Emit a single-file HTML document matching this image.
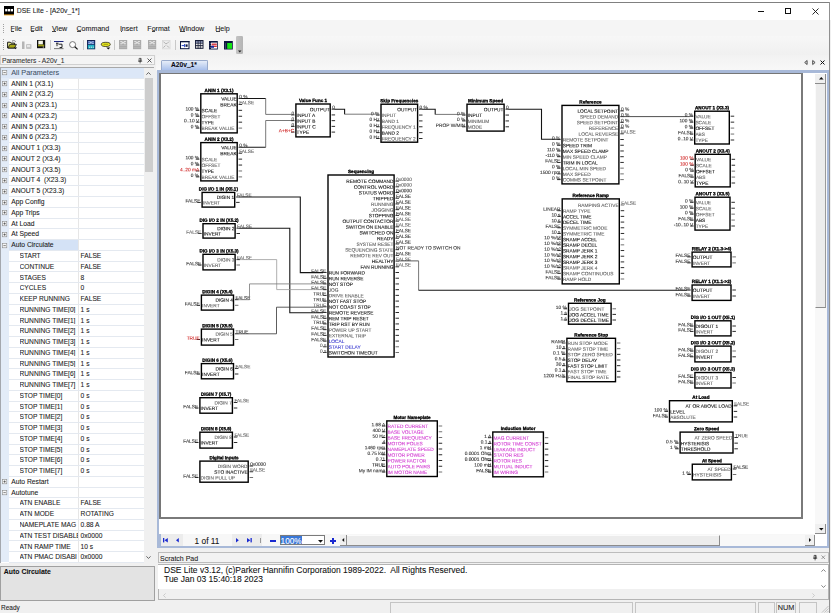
<!DOCTYPE html><html><head><meta charset="utf-8"><style>
html,body{margin:0;padding:0;}
body{width:831px;height:613px;overflow:hidden;position:relative;font-family:"Liberation Sans",sans-serif;background:#f0f0f0}
.t{position:absolute;white-space:pre;line-height:1.15;-webkit-text-stroke:0.08px currentColor;}
</style></head><body>
<div style="position:absolute;left:0px;top:0px;width:831px;height:613px;background:#f0f0f0"></div>
<div style="position:absolute;left:0px;top:0px;width:831px;height:20px;background:#fff"></div>
<div style="position:absolute;left:0px;top:2px;width:830px;height:1px;background:#808080"></div>
<div style="position:absolute;left:829px;top:2px;width:1px;height:611px;background:#909090"></div>
<svg style="position:absolute;left:4px;top:6px" width="11" height="10" viewBox="0 0 11 10"><rect x="0" y="0" width="10" height="9" fill="#000"/><rect x="1.2" y="3" width="2.2" height="2.4" fill="#fff"/><rect x="4" y="3" width="2.2" height="2.4" fill="#fff"/><rect x="6.8" y="3" width="2.2" height="2.4" fill="#fff"/><rect x="0" y="8.4" width="10" height="1" fill="#e8a020"/></svg>
<div class="t " style="left:16.8px;top:7.4px;font-size:6.85px;color:#1a1a1a">DSE Lite - [A20v_1*]</div>
<div style="position:absolute;left:758px;top:11px;width:6px;height:1px;background:#111"></div>
<div style="position:absolute;left:785.2px;top:8.4px;width:6px;height:5.8px;border:0.85px solid #111;box-sizing:border-box"></div>
<svg style="position:absolute;left:812px;top:8px" width="7" height="7" viewBox="0 0 7 7"><path d="M0.5 0.5L6.5 6.5M6.5 0.5L0.5 6.5" stroke="#111" stroke-width="0.9"/></svg>
<div style="position:absolute;left:0px;top:20px;width:829px;height:16px;background:#f5f5f5"></div>
<div style="position:absolute;left:3px;top:24px;width:1px;height:1px;background:#a0a0a0"></div>
<div style="position:absolute;left:3px;top:26px;width:1px;height:1px;background:#a0a0a0"></div>
<div style="position:absolute;left:3px;top:28px;width:1px;height:1px;background:#a0a0a0"></div>
<div style="position:absolute;left:3px;top:30px;width:1px;height:1px;background:#a0a0a0"></div>
<div style="position:absolute;left:3px;top:32px;width:1px;height:1px;background:#a0a0a0"></div>
<div class="t " style="left:10.6px;top:24.9px;font-size:7.1px;color:#1a1a1a">File</div>
<div style="position:absolute;left:10.5px;top:31.0px;width:3.4px;height:0.7px;background:#444"></div>
<div class="t " style="left:30.3px;top:24.9px;font-size:7.1px;color:#1a1a1a">Edit</div>
<div style="position:absolute;left:30.6px;top:31.0px;width:3.3px;height:0.7px;background:#444"></div>
<div class="t " style="left:52px;top:24.9px;font-size:7.1px;color:#1a1a1a">View</div>
<div style="position:absolute;left:52px;top:31.0px;width:4px;height:0.7px;background:#444"></div>
<div class="t " style="left:76.5px;top:24.9px;font-size:7.1px;color:#1a1a1a">Command</div>
<div style="position:absolute;left:76.6px;top:31.0px;width:4.3px;height:0.7px;background:#444"></div>
<div class="t " style="left:119.9px;top:24.9px;font-size:7.1px;color:#1a1a1a">Insert</div>
<div style="position:absolute;left:120.5px;top:31.0px;width:1.5px;height:0.7px;background:#444"></div>
<div class="t " style="left:147.3px;top:24.9px;font-size:7.1px;color:#1a1a1a">Format</div>
<div style="position:absolute;left:151.6px;top:31.0px;width:3px;height:0.7px;background:#444"></div>
<div class="t " style="left:179px;top:24.9px;font-size:7.1px;color:#1a1a1a">Window</div>
<div style="position:absolute;left:179.5px;top:31.0px;width:5.5px;height:0.7px;background:#444"></div>
<div class="t " style="left:215.2px;top:24.9px;font-size:7.1px;color:#1a1a1a">Help</div>
<div style="position:absolute;left:215.6px;top:31.0px;width:4px;height:0.7px;background:#444"></div>
<div style="position:absolute;left:0px;top:36px;width:829px;height:19px;background:linear-gradient(#f7f7f7,#f0f0f0)"></div>
<div style="position:absolute;left:3px;top:39px;width:1px;height:1px;background:#a0a0a0"></div>
<div style="position:absolute;left:3px;top:41px;width:1px;height:1px;background:#a0a0a0"></div>
<div style="position:absolute;left:3px;top:43px;width:1px;height:1px;background:#a0a0a0"></div>
<div style="position:absolute;left:3px;top:45px;width:1px;height:1px;background:#a0a0a0"></div>
<div style="position:absolute;left:3px;top:47px;width:1px;height:1px;background:#a0a0a0"></div>
<div style="position:absolute;left:3px;top:49px;width:1px;height:1px;background:#a0a0a0"></div>
<svg style="position:absolute;left:6.7px;top:40px;overflow:visible" width="10" height="9" viewBox="0 0 10 9"><path d="M0.6 2.2h2.6l0.8 0.9h3.6v4.9h-7z" fill="#e8e890" stroke="#1a1a1a" stroke-width="1"/><path d="M1 8l1.8-3.6h6.6l-1.8 3.6z" fill="#a6a614" stroke="#1a1a1a" stroke-width="0.8"/><path d="M5.2 1.2q2-1.4 3.6 0.6" fill="none" stroke="#222" stroke-width="0.8" stroke-dasharray="0.9 0.5"/><path d="M6.6 7.4l1.8 1.8 1.8-1.8z" fill="#111"/></svg>
<svg style="position:absolute;left:22px;top:40.5px;overflow:visible" width="10" height="8.5" viewBox="0 0 10 8.5"><rect x="0" y="0.5" width="2.5" height="7.5" fill="#b4b4b4"/><rect x="4" y="3" width="5.5" height="5" rx="1" fill="#c4c4c4"/><rect x="5" y="4" width="3" height="2" fill="#e6e6e6"/></svg>
<svg style="position:absolute;left:36.8px;top:40.4px;overflow:visible" width="8.2" height="8.2" viewBox="0 0 8.2 8.2"><rect x="0" y="0" width="8.2" height="8.2" fill="#111"/><rect x="1.3" y="0.7" width="4.6" height="3.8" fill="#f6f6e8"/><rect x="1" y="4.6" width="6.2" height="1.8" fill="#9c9c14"/><rect x="5.8" y="6.6" width="1" height="1" fill="#eee"/></svg>
<div style="position:absolute;left:50.2px;top:39.5px;width:1px;height:10px;background:#c8c8c8"></div>
<svg style="position:absolute;left:54.3px;top:40.8px;overflow:visible" width="9.5" height="8" viewBox="0 0 9.5 8"><rect x="0" y="0" width="9.5" height="1" fill="#1a237e"/><path d="M2 2.2h2.5M3 2.2v3M4.5 3.2h3.5v3.3h-2.4" stroke="#111" stroke-width="0.9" fill="none"/><rect x="0" y="7.3" width="9.5" height="0.8" fill="#555"/></svg>
<svg style="position:absolute;left:68.8px;top:40.5px;overflow:visible" width="9" height="8.5" viewBox="0 0 9 8.5"><circle cx="3.6" cy="3.6" r="3" fill="#fff" stroke="#555" stroke-width="0.8"/><path d="M5.8 5.8L8.6 8.4" stroke="#111" stroke-width="1.2"/></svg>
<div style="position:absolute;left:82.5px;top:39.5px;width:1px;height:10px;background:#c8c8c8"></div>
<svg style="position:absolute;left:86.8px;top:40.2px;overflow:visible" width="8.2" height="9.3" viewBox="0 0 8.2 9.3"><rect x="0" y="0" width="8.2" height="9.3" fill="#14204e"/><rect x="0.8" y="1" width="6.6" height="3.4" fill="#2a4fa8"/><path d="M1.3 1.8h2.2v1.6h-2.2M6.9 1.8h-2.2v1.6h2.2" stroke="#e8f4ff" stroke-width="0.7" fill="none"/><rect x="0.8" y="4.8" width="6.6" height="3.8" fill="#22b4c4"/><path d="M2 7.2h1.2M4 7.2h1.2M6 7.2h0.8" stroke="#f4f4f4" stroke-width="0.9"/></svg>
<svg style="position:absolute;left:100.9px;top:41.5px;overflow:visible" width="9.5" height="8" viewBox="0 0 9.5 8"><ellipse cx="4.8" cy="2.4" rx="4.5" ry="2.1" fill="#e8e820" stroke="#111" stroke-width="0.7"/><path d="M2.5 2.3h4.5" stroke="#6a6a10" stroke-width="0.6"/><path d="M5.3 5.6l2 2 2-2z" fill="#111"/></svg>
<div style="position:absolute;left:114.2px;top:39.5px;width:1px;height:10px;background:#c8c8c8"></div>
<svg style="position:absolute;left:119px;top:40.2px;overflow:visible" width="8.2" height="9.2" viewBox="0 0 8.2 9.2"><rect x="0" y="0" width="8.2" height="9.2" fill="#ababab"/><path d="M1.2 1.6h2v2.2h-2M7 1.6h-2v2.2h2M3.2 2.7h1.8" stroke="#f2f2f2" stroke-width="0.8" fill="none"/><rect x="0.6" y="5.4" width="7" height="0.5" fill="#c8c8c8"/><rect x="0.6" y="7.2" width="7" height="0.5" fill="#c0c0c0"/></svg>
<svg style="position:absolute;left:133.4px;top:40.2px;overflow:visible" width="8.2" height="9.2" viewBox="0 0 8.2 9.2"><rect x="0" y="0" width="8.2" height="9.2" fill="#ababab"/><path d="M1.2 1.6h2v2.2h-2M7 1.6h-2v2.2h2M3.2 2.7h1.8" stroke="#f2f2f2" stroke-width="0.8" fill="none"/><rect x="0.6" y="5.4" width="7" height="0.5" fill="#c8c8c8"/><rect x="0.6" y="7.2" width="7" height="0.5" fill="#c0c0c0"/></svg>
<svg style="position:absolute;left:148.1px;top:40.2px;overflow:visible" width="8.2" height="9.2" viewBox="0 0 8.2 9.2"><rect x="0" y="0" width="8.2" height="9.2" fill="#ababab"/><path d="M1.2 1.6h2v2.2h-2M7 1.6h-2v2.2h2M3.2 2.7h1.8" stroke="#f2f2f2" stroke-width="0.8" fill="none"/><rect x="0.6" y="5.4" width="7" height="0.5" fill="#c8c8c8"/><rect x="0.6" y="7.2" width="7" height="0.5" fill="#c0c0c0"/></svg>
<svg style="position:absolute;left:162.2px;top:40.2px;overflow:visible" width="8.4" height="9.2" viewBox="0 0 8.4 9.2"><rect x="0" y="0" width="8.4" height="9.2" fill="#d4d4d4"/><rect x="0.6" y="0.6" width="7.2" height="8" fill="#ececec"/><path d="M1.4 1.6l2 2M7 1.6l-2 2M3.4 3.6h1.6M1.4 7.6l2-2M5 5.6l2 2" stroke="#a8a8a8" stroke-width="0.9" fill="none"/></svg>
<div style="position:absolute;left:175.4px;top:39.5px;width:1px;height:10px;background:#c8c8c8"></div>
<svg style="position:absolute;left:180px;top:40.8px;overflow:visible" width="9.5" height="8.2" viewBox="0 0 9.5 8.2"><rect x="0.5" y="0.5" width="8.5" height="7.2" fill="#fff" stroke="#0d1640" stroke-width="1"/><rect x="0" y="0" width="9.5" height="1.3" fill="#0d1640"/><path d="M1.6 4.6h2.6" stroke="#1030c0" stroke-width="0.9"/><rect x="4.2" y="3" width="0.9" height="3.2" fill="#1030c0"/><rect x="5.6" y="3.4" width="2" height="2.4" fill="#0d1640"/></svg>
<svg style="position:absolute;left:195px;top:40.4px;overflow:visible" width="8.5" height="8.8" viewBox="0 0 8.5 8.8"><rect x="0" y="0" width="8.5" height="8.8" fill="#161c36"/><rect x="0.9" y="1.2" width="6.7" height="1.6" fill="#9aa4c4"/><rect x="0.9" y="3.6" width="6.7" height="1.4" fill="#e8e8e8"/><rect x="0.9" y="5.8" width="6.7" height="2.1" fill="#c8c8c8"/><path d="M3.1 1v7.8M5.4 1v7.8" stroke="#161c36" stroke-width="0.7"/></svg>
<svg style="position:absolute;left:209.3px;top:40.5px;overflow:visible" width="8.8" height="8.5" viewBox="0 0 8.8 8.5"><rect x="0" y="0" width="8.8" height="8.5" fill="#0d1640"/><rect x="2" y="1.6" width="6" height="6" fill="#fff"/><rect x="2.6" y="2.6" width="5.2" height="1.2" fill="#d0141e"/><rect x="2.6" y="4.6" width="5.2" height="1.3" fill="#d0141e"/><rect x="2" y="4.8" width="3" height="2" fill="#1b2a9b"/><path d="M0.9 2.5h0.6M0.9 4.5h0.6M0.9 6.5h0.6" stroke="#ddd" stroke-width="0.6"/></svg>
<svg style="position:absolute;left:223.5px;top:40.5px;overflow:visible" width="8.8" height="8.5" viewBox="0 0 8.8 8.5"><rect x="0" y="0" width="8.8" height="8.5" fill="#0d1640"/><rect x="3.2" y="2" width="4.8" height="5.8" fill="#14e614"/><path d="M1.1 3h0.8M1.1 5h0.8M1.1 7h0.8" stroke="#ccc" stroke-width="0.6"/></svg>
<div style="position:absolute;left:236px;top:36.2px;width:6.6px;height:17.6px;background:linear-gradient(90deg,#c4c4c4,#b4b4b4);border-radius:1.2px"></div>
<svg style="position:absolute;left:237.5px;top:49.5px;overflow:visible" width="4" height="3" viewBox="0 0 4 3"><path d="M0 0.5h3.5L1.75 2.5z" fill="#222"/></svg>
<div style="position:absolute;left:0px;top:55.3px;width:154.5px;height:10.2px;background:#f4f4f4;border:1px solid #d0d0d0;box-sizing:border-box"></div>
<div class="t " style="left:2px;top:57.2px;font-size:6.65px;color:#333">Parameters - A20v_1</div>
<svg style="position:absolute;left:138.3px;top:57.6px;overflow:visible" width="4.2" height="5.4" viewBox="0 0 4.2 5.4"><path d="M1.1 0.4h2v2.8h-2zM0 3.2h4.2M2.1 3.2v2.2" stroke="#333" stroke-width="0.7" fill="none"/><path d="M2.6 0.4v2.8" stroke="#333" stroke-width="0.6"/></svg>
<svg style="position:absolute;left:146.5px;top:57.8px;overflow:visible" width="5" height="5" viewBox="0 0 5 5"><path d="M0.5 0.5l4 4M4.5 0.5l-4 4" stroke="#333" stroke-width="0.8"/></svg>
<div style="position:absolute;left:0px;top:66.8px;width:154px;height:496.2px;background:#fff;border-left:1px solid #a4a8ae;border-top:1px solid #a8a8a8;box-sizing:border-box"></div>
<div style="position:absolute;left:1px;top:67.6px;width:8px;height:494.59999999999997px;background:#e3ecf8"></div>
<div style="position:absolute;left:78.2px;top:67.6px;width:0.8px;height:494.4px;background:#e6e6e6"></div>
<div style="position:absolute;left:1px;top:67.6px;width:143px;height:10.76px;background:#dce7f7"></div>
<div style="position:absolute;left:9px;top:77.76px;width:135px;height:0.6px;background:#e4e9f0"></div>
<svg style="position:absolute;left:2.3px;top:70.38px;overflow:visible" width="5.2" height="5.2" viewBox="0 0 5.2 5.2"><rect x="0.4" y="0.4" width="4.4" height="4.4" fill="#f8f8f8" stroke="#8a8a8a" stroke-width="0.6"/><path d="M1.4 2.6h2.4" stroke="#333" stroke-width="0.6"/></svg>
<div class="t " style="left:11.2px;top:69.47999999999999px;font-size:7.3px;color:#44546a">All Parameters</div>
<div style="position:absolute;left:9px;top:88.52000000000001px;width:135px;height:0.6px;background:#e4e9f0"></div>
<svg style="position:absolute;left:2.3px;top:81.14px;overflow:visible" width="5.2" height="5.2" viewBox="0 0 5.2 5.2"><rect x="0.4" y="0.4" width="4.4" height="4.4" fill="#f8f8f8" stroke="#8a8a8a" stroke-width="0.6"/><path d="M1.4 2.6h2.4M2.6 1.4v2.4" stroke="#333" stroke-width="0.6"/></svg>
<div class="t " style="left:11.2px;top:79.64px;font-size:6.75px;color:#1a1a1a">ANIN 1 (X3.1)</div>
<div style="position:absolute;left:9px;top:99.28px;width:135px;height:0.6px;background:#e4e9f0"></div>
<svg style="position:absolute;left:2.3px;top:91.89999999999999px;overflow:visible" width="5.2" height="5.2" viewBox="0 0 5.2 5.2"><rect x="0.4" y="0.4" width="4.4" height="4.4" fill="#f8f8f8" stroke="#8a8a8a" stroke-width="0.6"/><path d="M1.4 2.6h2.4M2.6 1.4v2.4" stroke="#333" stroke-width="0.6"/></svg>
<div class="t " style="left:11.2px;top:90.39999999999999px;font-size:6.75px;color:#1a1a1a">ANIN 2 (X3.2)</div>
<div style="position:absolute;left:9px;top:110.04px;width:135px;height:0.6px;background:#e4e9f0"></div>
<svg style="position:absolute;left:2.3px;top:102.66px;overflow:visible" width="5.2" height="5.2" viewBox="0 0 5.2 5.2"><rect x="0.4" y="0.4" width="4.4" height="4.4" fill="#f8f8f8" stroke="#8a8a8a" stroke-width="0.6"/><path d="M1.4 2.6h2.4M2.6 1.4v2.4" stroke="#333" stroke-width="0.6"/></svg>
<div class="t " style="left:11.2px;top:101.16px;font-size:6.75px;color:#1a1a1a">ANIN 3 (X23.1)</div>
<div style="position:absolute;left:9px;top:120.8px;width:135px;height:0.6px;background:#e4e9f0"></div>
<svg style="position:absolute;left:2.3px;top:113.41999999999999px;overflow:visible" width="5.2" height="5.2" viewBox="0 0 5.2 5.2"><rect x="0.4" y="0.4" width="4.4" height="4.4" fill="#f8f8f8" stroke="#8a8a8a" stroke-width="0.6"/><path d="M1.4 2.6h2.4M2.6 1.4v2.4" stroke="#333" stroke-width="0.6"/></svg>
<div class="t " style="left:11.2px;top:111.91999999999999px;font-size:6.75px;color:#1a1a1a">ANIN 4 (X23.2)</div>
<div style="position:absolute;left:9px;top:131.56px;width:135px;height:0.6px;background:#e4e9f0"></div>
<svg style="position:absolute;left:2.3px;top:124.17999999999999px;overflow:visible" width="5.2" height="5.2" viewBox="0 0 5.2 5.2"><rect x="0.4" y="0.4" width="4.4" height="4.4" fill="#f8f8f8" stroke="#8a8a8a" stroke-width="0.6"/><path d="M1.4 2.6h2.4M2.6 1.4v2.4" stroke="#333" stroke-width="0.6"/></svg>
<div class="t " style="left:11.2px;top:122.67999999999999px;font-size:6.75px;color:#1a1a1a">ANIN 5 (X23.1)</div>
<div style="position:absolute;left:9px;top:142.32px;width:135px;height:0.6px;background:#e4e9f0"></div>
<svg style="position:absolute;left:2.3px;top:134.94px;overflow:visible" width="5.2" height="5.2" viewBox="0 0 5.2 5.2"><rect x="0.4" y="0.4" width="4.4" height="4.4" fill="#f8f8f8" stroke="#8a8a8a" stroke-width="0.6"/><path d="M1.4 2.6h2.4M2.6 1.4v2.4" stroke="#333" stroke-width="0.6"/></svg>
<div class="t " style="left:11.2px;top:133.44px;font-size:6.75px;color:#1a1a1a">ANIN 6 (X23.2)</div>
<div style="position:absolute;left:9px;top:153.07999999999998px;width:135px;height:0.6px;background:#e4e9f0"></div>
<svg style="position:absolute;left:2.3px;top:145.7px;overflow:visible" width="5.2" height="5.2" viewBox="0 0 5.2 5.2"><rect x="0.4" y="0.4" width="4.4" height="4.4" fill="#f8f8f8" stroke="#8a8a8a" stroke-width="0.6"/><path d="M1.4 2.6h2.4M2.6 1.4v2.4" stroke="#333" stroke-width="0.6"/></svg>
<div class="t " style="left:11.2px;top:144.2px;font-size:6.75px;color:#1a1a1a">ANOUT 1 (X3.3)</div>
<div style="position:absolute;left:9px;top:163.84px;width:135px;height:0.6px;background:#e4e9f0"></div>
<svg style="position:absolute;left:2.3px;top:156.46px;overflow:visible" width="5.2" height="5.2" viewBox="0 0 5.2 5.2"><rect x="0.4" y="0.4" width="4.4" height="4.4" fill="#f8f8f8" stroke="#8a8a8a" stroke-width="0.6"/><path d="M1.4 2.6h2.4M2.6 1.4v2.4" stroke="#333" stroke-width="0.6"/></svg>
<div class="t " style="left:11.2px;top:154.96px;font-size:6.75px;color:#1a1a1a">ANOUT 2 (X3.4)</div>
<div style="position:absolute;left:9px;top:174.6px;width:135px;height:0.6px;background:#e4e9f0"></div>
<svg style="position:absolute;left:2.3px;top:167.22px;overflow:visible" width="5.2" height="5.2" viewBox="0 0 5.2 5.2"><rect x="0.4" y="0.4" width="4.4" height="4.4" fill="#f8f8f8" stroke="#8a8a8a" stroke-width="0.6"/><path d="M1.4 2.6h2.4M2.6 1.4v2.4" stroke="#333" stroke-width="0.6"/></svg>
<div class="t " style="left:11.2px;top:165.72px;font-size:6.75px;color:#1a1a1a">ANOUT 3 (X3.5)</div>
<div style="position:absolute;left:9px;top:185.35999999999999px;width:135px;height:0.6px;background:#e4e9f0"></div>
<svg style="position:absolute;left:2.3px;top:177.98px;overflow:visible" width="5.2" height="5.2" viewBox="0 0 5.2 5.2"><rect x="0.4" y="0.4" width="4.4" height="4.4" fill="#f8f8f8" stroke="#8a8a8a" stroke-width="0.6"/><path d="M1.4 2.6h2.4M2.6 1.4v2.4" stroke="#333" stroke-width="0.6"/></svg>
<div class="t " style="left:11.2px;top:176.48px;font-size:6.75px;color:#1a1a1a">ANOUT 4  (X23.3)</div>
<div style="position:absolute;left:9px;top:196.11999999999998px;width:135px;height:0.6px;background:#e4e9f0"></div>
<svg style="position:absolute;left:2.3px;top:188.73999999999998px;overflow:visible" width="5.2" height="5.2" viewBox="0 0 5.2 5.2"><rect x="0.4" y="0.4" width="4.4" height="4.4" fill="#f8f8f8" stroke="#8a8a8a" stroke-width="0.6"/><path d="M1.4 2.6h2.4M2.6 1.4v2.4" stroke="#333" stroke-width="0.6"/></svg>
<div class="t " style="left:11.2px;top:187.23999999999998px;font-size:6.75px;color:#1a1a1a">ANOUT 5 (X23.3)</div>
<div style="position:absolute;left:9px;top:206.88px;width:135px;height:0.6px;background:#e4e9f0"></div>
<svg style="position:absolute;left:2.3px;top:199.5px;overflow:visible" width="5.2" height="5.2" viewBox="0 0 5.2 5.2"><rect x="0.4" y="0.4" width="4.4" height="4.4" fill="#f8f8f8" stroke="#8a8a8a" stroke-width="0.6"/><path d="M1.4 2.6h2.4M2.6 1.4v2.4" stroke="#333" stroke-width="0.6"/></svg>
<div class="t " style="left:11.2px;top:198.0px;font-size:6.75px;color:#1a1a1a">App Config</div>
<div style="position:absolute;left:9px;top:217.64px;width:135px;height:0.6px;background:#e4e9f0"></div>
<svg style="position:absolute;left:2.3px;top:210.26px;overflow:visible" width="5.2" height="5.2" viewBox="0 0 5.2 5.2"><rect x="0.4" y="0.4" width="4.4" height="4.4" fill="#f8f8f8" stroke="#8a8a8a" stroke-width="0.6"/><path d="M1.4 2.6h2.4M2.6 1.4v2.4" stroke="#333" stroke-width="0.6"/></svg>
<div class="t " style="left:11.2px;top:208.76px;font-size:6.75px;color:#1a1a1a">App Trips</div>
<div style="position:absolute;left:9px;top:228.39999999999998px;width:135px;height:0.6px;background:#e4e9f0"></div>
<svg style="position:absolute;left:2.3px;top:221.01999999999998px;overflow:visible" width="5.2" height="5.2" viewBox="0 0 5.2 5.2"><rect x="0.4" y="0.4" width="4.4" height="4.4" fill="#f8f8f8" stroke="#8a8a8a" stroke-width="0.6"/><path d="M1.4 2.6h2.4M2.6 1.4v2.4" stroke="#333" stroke-width="0.6"/></svg>
<div class="t " style="left:11.2px;top:219.51999999999998px;font-size:6.75px;color:#1a1a1a">At Load</div>
<div style="position:absolute;left:9px;top:239.16px;width:135px;height:0.6px;background:#e4e9f0"></div>
<svg style="position:absolute;left:2.3px;top:231.78px;overflow:visible" width="5.2" height="5.2" viewBox="0 0 5.2 5.2"><rect x="0.4" y="0.4" width="4.4" height="4.4" fill="#f8f8f8" stroke="#8a8a8a" stroke-width="0.6"/><path d="M1.4 2.6h2.4M2.6 1.4v2.4" stroke="#333" stroke-width="0.6"/></svg>
<div class="t " style="left:11.2px;top:230.28px;font-size:6.75px;color:#1a1a1a">At Speed</div>
<div style="position:absolute;left:9px;top:239.76px;width:69.2px;height:10.76px;background:#d4e2f6"></div>
<div style="position:absolute;left:9px;top:249.92px;width:135px;height:0.6px;background:#e4e9f0"></div>
<svg style="position:absolute;left:2.3px;top:242.54px;overflow:visible" width="5.2" height="5.2" viewBox="0 0 5.2 5.2"><rect x="0.4" y="0.4" width="4.4" height="4.4" fill="#f8f8f8" stroke="#8a8a8a" stroke-width="0.6"/><path d="M1.4 2.6h2.4" stroke="#333" stroke-width="0.6"/></svg>
<div class="t " style="left:11.2px;top:241.04px;font-size:6.75px;color:#1a1a1a">Auto Circulate</div>
<div style="position:absolute;left:9px;top:260.67999999999995px;width:135px;height:0.6px;background:#e4e9f0"></div>
<div class="t " style="left:19.5px;top:251.99999999999997px;font-size:6.65px;color:#222;width:58.3px;overflow:hidden">START</div>
<div class="t " style="left:80.6px;top:251.99999999999997px;font-size:6.65px;color:#222">FALSE</div>
<div style="position:absolute;left:9px;top:271.43999999999994px;width:135px;height:0.6px;background:#e4e9f0"></div>
<div class="t " style="left:19.5px;top:262.76px;font-size:6.65px;color:#222;width:58.3px;overflow:hidden">CONTINUE</div>
<div class="t " style="left:80.6px;top:262.76px;font-size:6.65px;color:#222">FALSE</div>
<div style="position:absolute;left:9px;top:282.19999999999993px;width:135px;height:0.6px;background:#e4e9f0"></div>
<div class="t " style="left:19.5px;top:273.52px;font-size:6.65px;color:#222;width:58.3px;overflow:hidden">STAGES</div>
<div class="t " style="left:80.6px;top:273.52px;font-size:6.65px;color:#222">8</div>
<div style="position:absolute;left:9px;top:292.9599999999999px;width:135px;height:0.6px;background:#e4e9f0"></div>
<div class="t " style="left:19.5px;top:284.28px;font-size:6.65px;color:#222;width:58.3px;overflow:hidden">CYCLES</div>
<div class="t " style="left:80.6px;top:284.28px;font-size:6.65px;color:#222">0</div>
<div style="position:absolute;left:9px;top:303.71999999999997px;width:135px;height:0.6px;background:#e4e9f0"></div>
<div class="t " style="left:19.5px;top:295.04px;font-size:6.65px;color:#222;width:58.3px;overflow:hidden">KEEP RUNNING</div>
<div class="t " style="left:80.6px;top:295.04px;font-size:6.65px;color:#222">FALSE</div>
<div style="position:absolute;left:9px;top:314.47999999999996px;width:135px;height:0.6px;background:#e4e9f0"></div>
<div class="t " style="left:19.5px;top:305.8px;font-size:6.65px;color:#222;width:58.3px;overflow:hidden">RUNNING TIME[0]</div>
<div class="t " style="left:80.6px;top:305.8px;font-size:6.65px;color:#222">1 s</div>
<div style="position:absolute;left:9px;top:325.23999999999995px;width:135px;height:0.6px;background:#e4e9f0"></div>
<div class="t " style="left:19.5px;top:316.56px;font-size:6.65px;color:#222;width:58.3px;overflow:hidden">RUNNING TIME[1]</div>
<div class="t " style="left:80.6px;top:316.56px;font-size:6.65px;color:#222">1 s</div>
<div style="position:absolute;left:9px;top:336.0px;width:135px;height:0.6px;background:#e4e9f0"></div>
<div class="t " style="left:19.5px;top:327.32000000000005px;font-size:6.65px;color:#222;width:58.3px;overflow:hidden">RUNNING TIME[2]</div>
<div class="t " style="left:80.6px;top:327.32000000000005px;font-size:6.65px;color:#222">1 s</div>
<div style="position:absolute;left:9px;top:346.76px;width:135px;height:0.6px;background:#e4e9f0"></div>
<div class="t " style="left:19.5px;top:338.08000000000004px;font-size:6.65px;color:#222;width:58.3px;overflow:hidden">RUNNING TIME[3]</div>
<div class="t " style="left:80.6px;top:338.08000000000004px;font-size:6.65px;color:#222">1 s</div>
<div style="position:absolute;left:9px;top:357.52px;width:135px;height:0.6px;background:#e4e9f0"></div>
<div class="t " style="left:19.5px;top:348.84000000000003px;font-size:6.65px;color:#222;width:58.3px;overflow:hidden">RUNNING TIME[4]</div>
<div class="t " style="left:80.6px;top:348.84000000000003px;font-size:6.65px;color:#222">1 s</div>
<div style="position:absolute;left:9px;top:368.28px;width:135px;height:0.6px;background:#e4e9f0"></div>
<div class="t " style="left:19.5px;top:359.6px;font-size:6.65px;color:#222;width:58.3px;overflow:hidden">RUNNING TIME[5]</div>
<div class="t " style="left:80.6px;top:359.6px;font-size:6.65px;color:#222">1 s</div>
<div style="position:absolute;left:9px;top:379.03999999999996px;width:135px;height:0.6px;background:#e4e9f0"></div>
<div class="t " style="left:19.5px;top:370.36px;font-size:6.65px;color:#222;width:58.3px;overflow:hidden">RUNNING TIME[6]</div>
<div class="t " style="left:80.6px;top:370.36px;font-size:6.65px;color:#222">1 s</div>
<div style="position:absolute;left:9px;top:389.79999999999995px;width:135px;height:0.6px;background:#e4e9f0"></div>
<div class="t " style="left:19.5px;top:381.12px;font-size:6.65px;color:#222;width:58.3px;overflow:hidden">RUNNING TIME[7]</div>
<div class="t " style="left:80.6px;top:381.12px;font-size:6.65px;color:#222">1 s</div>
<div style="position:absolute;left:9px;top:400.55999999999995px;width:135px;height:0.6px;background:#e4e9f0"></div>
<div class="t " style="left:19.5px;top:391.88px;font-size:6.65px;color:#222;width:58.3px;overflow:hidden">STOP TIME[0]</div>
<div class="t " style="left:80.6px;top:391.88px;font-size:6.65px;color:#222">0 s</div>
<div style="position:absolute;left:9px;top:411.31999999999994px;width:135px;height:0.6px;background:#e4e9f0"></div>
<div class="t " style="left:19.5px;top:402.64px;font-size:6.65px;color:#222;width:58.3px;overflow:hidden">STOP TIME[1]</div>
<div class="t " style="left:80.6px;top:402.64px;font-size:6.65px;color:#222">0 s</div>
<div style="position:absolute;left:9px;top:422.0799999999999px;width:135px;height:0.6px;background:#e4e9f0"></div>
<div class="t " style="left:19.5px;top:413.4px;font-size:6.65px;color:#222;width:58.3px;overflow:hidden">STOP TIME[2]</div>
<div class="t " style="left:80.6px;top:413.4px;font-size:6.65px;color:#222">0 s</div>
<div style="position:absolute;left:9px;top:432.8399999999999px;width:135px;height:0.6px;background:#e4e9f0"></div>
<div class="t " style="left:19.5px;top:424.15999999999997px;font-size:6.65px;color:#222;width:58.3px;overflow:hidden">STOP TIME[3]</div>
<div class="t " style="left:80.6px;top:424.15999999999997px;font-size:6.65px;color:#222">0 s</div>
<div style="position:absolute;left:9px;top:443.5999999999999px;width:135px;height:0.6px;background:#e4e9f0"></div>
<div class="t " style="left:19.5px;top:434.91999999999996px;font-size:6.65px;color:#222;width:58.3px;overflow:hidden">STOP TIME[4]</div>
<div class="t " style="left:80.6px;top:434.91999999999996px;font-size:6.65px;color:#222">0 s</div>
<div style="position:absolute;left:9px;top:454.3599999999999px;width:135px;height:0.6px;background:#e4e9f0"></div>
<div class="t " style="left:19.5px;top:445.67999999999995px;font-size:6.65px;color:#222;width:58.3px;overflow:hidden">STOP TIME[5]</div>
<div class="t " style="left:80.6px;top:445.67999999999995px;font-size:6.65px;color:#222">0 s</div>
<div style="position:absolute;left:9px;top:465.12px;width:135px;height:0.6px;background:#e4e9f0"></div>
<div class="t " style="left:19.5px;top:456.44000000000005px;font-size:6.65px;color:#222;width:58.3px;overflow:hidden">STOP TIME[6]</div>
<div class="t " style="left:80.6px;top:456.44000000000005px;font-size:6.65px;color:#222">0 s</div>
<div style="position:absolute;left:9px;top:475.88px;width:135px;height:0.6px;background:#e4e9f0"></div>
<div class="t " style="left:19.5px;top:467.20000000000005px;font-size:6.65px;color:#222;width:58.3px;overflow:hidden">STOP TIME[7]</div>
<div class="t " style="left:80.6px;top:467.20000000000005px;font-size:6.65px;color:#222">0 s</div>
<div style="position:absolute;left:9px;top:486.64px;width:135px;height:0.6px;background:#e4e9f0"></div>
<svg style="position:absolute;left:2.3px;top:479.26px;overflow:visible" width="5.2" height="5.2" viewBox="0 0 5.2 5.2"><rect x="0.4" y="0.4" width="4.4" height="4.4" fill="#f8f8f8" stroke="#8a8a8a" stroke-width="0.6"/><path d="M1.4 2.6h2.4M2.6 1.4v2.4" stroke="#333" stroke-width="0.6"/></svg>
<div class="t " style="left:11.2px;top:477.76px;font-size:6.75px;color:#1a1a1a">Auto Restart</div>
<div style="position:absolute;left:9px;top:497.4px;width:135px;height:0.6px;background:#e4e9f0"></div>
<svg style="position:absolute;left:2.3px;top:490.02px;overflow:visible" width="5.2" height="5.2" viewBox="0 0 5.2 5.2"><rect x="0.4" y="0.4" width="4.4" height="4.4" fill="#f8f8f8" stroke="#8a8a8a" stroke-width="0.6"/><path d="M1.4 2.6h2.4" stroke="#333" stroke-width="0.6"/></svg>
<div class="t " style="left:11.2px;top:488.52px;font-size:6.75px;color:#1a1a1a">Autotune</div>
<div style="position:absolute;left:9px;top:508.15999999999997px;width:135px;height:0.6px;background:#e4e9f0"></div>
<div class="t " style="left:19.5px;top:499.48px;font-size:6.65px;color:#222;width:58.3px;overflow:hidden">ATN ENABLE</div>
<div class="t " style="left:80.6px;top:499.48px;font-size:6.65px;color:#222">FALSE</div>
<div style="position:absolute;left:9px;top:518.92px;width:135px;height:0.6px;background:#e4e9f0"></div>
<div class="t " style="left:19.5px;top:510.24px;font-size:6.65px;color:#222;width:58.3px;overflow:hidden">ATN MODE</div>
<div class="t " style="left:80.6px;top:510.24px;font-size:6.65px;color:#222">ROTATING</div>
<div style="position:absolute;left:9px;top:529.68px;width:135px;height:0.6px;background:#e4e9f0"></div>
<div class="t " style="left:19.5px;top:521.0px;font-size:6.65px;color:#222;width:58.3px;overflow:hidden">NAMEPLATE MAG</div>
<div class="t " style="left:80.6px;top:521.0px;font-size:6.65px;color:#222">0.88 A</div>
<div style="position:absolute;left:9px;top:540.4399999999999px;width:135px;height:0.6px;background:#e4e9f0"></div>
<div class="t " style="left:19.5px;top:531.76px;font-size:6.65px;color:#222;width:58.3px;overflow:hidden">ATN TEST DISABLE</div>
<div class="t " style="left:80.6px;top:531.76px;font-size:6.65px;color:#222">0x0000</div>
<div style="position:absolute;left:9px;top:551.1999999999999px;width:135px;height:0.6px;background:#e4e9f0"></div>
<div class="t " style="left:19.5px;top:542.52px;font-size:6.65px;color:#222;width:58.3px;overflow:hidden">ATN RAMP TIME</div>
<div class="t " style="left:80.6px;top:542.52px;font-size:6.65px;color:#222">10 s</div>
<div style="position:absolute;left:9px;top:561.9599999999999px;width:135px;height:0.6px;background:#e4e9f0"></div>
<div class="t " style="left:19.5px;top:553.28px;font-size:6.65px;color:#222;width:58.3px;overflow:hidden">ATN PMAC DISABI</div>
<div class="t " style="left:80.6px;top:553.28px;font-size:6.65px;color:#222">0x0000</div>
<div style="position:absolute;left:144.3px;top:67.6px;width:9.7px;height:495.4px;background:#f0f0f0"></div>
<div style="position:absolute;left:144.6px;top:77.6px;width:8px;height:94px;background:#cdcdcd"></div>
<svg style="position:absolute;left:146.3px;top:71.5px;overflow:visible" width="5" height="3" viewBox="0 0 5 3"><path d="M0.4 2.6L2.5 0.6 4.6 2.6" stroke="#555" stroke-width="0.9" fill="none"/></svg>
<svg style="position:absolute;left:146.3px;top:555.5px;overflow:visible" width="5" height="3" viewBox="0 0 5 3"><path d="M0.4 0.4L2.5 2.4 4.6 0.4" stroke="#555" stroke-width="0.9" fill="none"/></svg>
<div style="position:absolute;left:0px;top:565.5px;width:154.5px;height:35px;background:#e3e3e3;border:1px solid #a0a0a0;box-sizing:border-box"></div>
<div class="t " style="left:3.8px;top:568.3px;font-size:6.9px;font-weight:bold;color:#111">Auto Circulate</div>
<div style="position:absolute;left:155.5px;top:55px;width:673.5px;height:15.5px;background:linear-gradient(#f2f2f2,#f8f8f8)"></div>
<div style="position:absolute;left:161.3px;top:59.6px;width:46.3px;height:11.5px;background:linear-gradient(#e6edf8,#a2bbea);border:0.6px solid #98aacb;border-bottom:none;border-radius:1.5px 1.5px 0 0;box-sizing:border-box"></div>
<div class="t " style="left:170.9px;top:61.2px;font-size:6.7px;font-weight:bold;color:#0a0a14">A20v_1*</div>
<svg style="position:absolute;left:804px;top:59.8px;overflow:visible" width="4" height="5" viewBox="0 0 4 5"><path d="M3.1 0.5L0.7 2.5 3.1 4.5z" fill="none" stroke="#222" stroke-width="0.8"/></svg>
<svg style="position:absolute;left:811.8px;top:59.8px;overflow:visible" width="4" height="5" viewBox="0 0 4 5"><path d="M0.7 0.5L3.1 2.5 0.7 4.5z" fill="none" stroke="#222" stroke-width="0.8"/></svg>
<svg style="position:absolute;left:819.7px;top:60px;overflow:visible" width="5" height="5" viewBox="0 0 5 5"><path d="M0.5 0.5l4 4M4.5 0.5l-4 4" stroke="#111" stroke-width="1"/></svg>
<div style="position:absolute;left:156.9px;top:70.3px;width:672.4px;height:477.5px;background:#a8b9d8"></div>
<div style="position:absolute;left:159.2px;top:72.6px;width:667.6px;height:461.4px;background:#fff"></div>
<div style="position:absolute;left:159.2px;top:72.6px;width:643.6px;height:1.9px;background:#767676"></div>
<div style="position:absolute;left:159.2px;top:72.6px;width:1.9px;height:446px;background:#767676"></div>
<div style="position:absolute;left:801px;top:72.6px;width:1.8px;height:446px;background:#7a7a7a"></div>
<div style="position:absolute;left:159.2px;top:516.8px;width:643.6px;height:1.8px;background:#7a7a7a"></div>
<div style="position:absolute;left:815px;top:74px;width:11.5px;height:460px;background:#f8f8f8"></div>
<div style="position:absolute;left:815px;top:74px;width:11.4px;height:9.8px;background:#f0f0f0;border-right:1px solid #8c8c8c;border-bottom:1px solid #8c8c8c;box-sizing:border-box"></div>
<svg style="position:absolute;left:818.6px;top:77.2px;overflow:visible" width="4.6" height="2.6" viewBox="0 0 4.6 2.6"><path d="M0 2.6L2.3 0 4.6 2.6z" fill="#111"/></svg>
<div style="position:absolute;left:815px;top:83.8px;width:11.4px;height:224.4px;background:#ececec;border-right:1px solid #9a9a9a;border-bottom:1px solid #8c8c8c;border-left:0.6px solid #fafafa;box-sizing:border-box"></div>
<div style="position:absolute;left:815px;top:523.8px;width:11.4px;height:9.8px;background:#f0f0f0;border-right:1px solid #8c8c8c;border-bottom:1px solid #8c8c8c;box-sizing:border-box"></div>
<svg style="position:absolute;left:818.6px;top:527.6px;overflow:visible" width="4.6" height="2.6" viewBox="0 0 4.6 2.6"><path d="M0 0L2.3 2.6 4.6 0z" fill="#111"/></svg>
<div style="position:absolute;left:161px;top:534.2px;width:654px;height:11.8px;background:#f7f7f7"></div>
<div style="position:absolute;left:161px;top:534.2px;width:22px;height:11.8px;background:#ececec"></div>
<div style="position:absolute;left:231.5px;top:534.2px;width:30px;height:11.8px;background:#ececec"></div>
<svg style="position:absolute;left:163.2px;top:538.1px;overflow:visible" width="5" height="4.4" viewBox="0 0 5 4.4"><rect x="0" y="0" width="1.3" height="4.4" fill="#1a2ad0"/><path d="M4.8 0L1.5 2.2 4.8 4.4z" fill="#1a2ad0"/></svg>
<svg style="position:absolute;left:175.8px;top:538.1px;overflow:visible" width="3" height="4.4" viewBox="0 0 3 4.4"><path d="M2.8 0L0 2.2 2.8 4.4z" fill="#1a2ad0"/></svg>
<div class="t " style="left:194.6px;top:536.8px;font-size:8.3px;color:#111">1 of 11</div>
<svg style="position:absolute;left:235.9px;top:538.1px;overflow:visible" width="3" height="4.4" viewBox="0 0 3 4.4"><path d="M0 0L2.8 2.2 0 4.4z" fill="#1a2ad0"/></svg>
<svg style="position:absolute;left:246.6px;top:538.1px;overflow:visible" width="5" height="4.4" viewBox="0 0 5 4.4"><path d="M0 0L3.3 2.2 0 4.4z" fill="#1a2ad0"/><rect x="3.5" y="0" width="1.3" height="4.4" fill="#1a2ad0"/></svg>
<div style="position:absolute;left:260px;top:537.5px;width:0.8px;height:5px;background:#999"></div>
<div style="position:absolute;left:270px;top:539.6px;width:6.2px;height:2px;background:#1a2ad0"></div>
<div style="position:absolute;left:279.5px;top:535.2px;width:45px;height:10px;background:#fff;border:0.6px solid #7a7a7a;box-sizing:border-box"></div>
<div style="position:absolute;left:280.5px;top:536.2px;width:21.5px;height:8px;background:#3a78d8"></div>
<div class="t " style="left:280.6px;top:536.6px;font-size:8.2px;color:#fff">100%</div>
<svg style="position:absolute;left:317.5px;top:539.5px;overflow:visible" width="5" height="3" viewBox="0 0 5 3"><path d="M0 0L2.5 2.8 5 0z" fill="#111"/></svg>
<div style="position:absolute;left:329.5px;top:539.6px;width:6.2px;height:2px;background:#1a2ad0"></div>
<div style="position:absolute;left:331.6px;top:537.5px;width:2px;height:6.2px;background:#1a2ad0"></div>
<div style="position:absolute;left:340.3px;top:534.5px;width:474.7px;height:11.4px;background:#f8f8f8"></div>
<div style="position:absolute;left:340.3px;top:534.5px;width:6.4px;height:11.4px;background:#f0f0f0;border-right:1px solid #8c8c8c;border-bottom:1px solid #8c8c8c;box-sizing:border-box"></div>
<svg style="position:absolute;left:342.3px;top:538.3px;overflow:visible" width="2.4" height="4" viewBox="0 0 2.4 4"><path d="M2.2 0L0 2 2.2 4z" fill="#111"/></svg>
<div style="position:absolute;left:346.8px;top:534.5px;width:373px;height:11.4px;background:#ececec;border-right:1px solid #8c8c8c;border-bottom:1px solid #8c8c8c;border-top:0.6px solid #fafafa;box-sizing:border-box"></div>
<div style="position:absolute;left:804.8px;top:534.5px;width:10.2px;height:11.4px;background:#f0f0f0;border-right:1px solid #8c8c8c;border-bottom:1px solid #8c8c8c;box-sizing:border-box"></div>
<svg style="position:absolute;left:808.6px;top:538.3px;overflow:visible" width="2.4" height="4" viewBox="0 0 2.4 4"><path d="M0 0L2.2 2 0 4z" fill="#111"/></svg>
<div style="position:absolute;left:815px;top:534.2px;width:11.5px;height:11.8px;background:#fff"></div>
<div style="position:absolute;left:157.6px;top:552.2px;width:671.4px;height:10.4px;background:#f2f2f2;border:0.8px solid #bcbcbc;box-sizing:border-box"></div>
<div class="t " style="left:160px;top:555.0px;font-size:7px;color:#1a1a1a">Scratch Pad</div>
<svg style="position:absolute;left:813.3px;top:554.6px;overflow:visible" width="4.2" height="5.4" viewBox="0 0 4.2 5.4"><path d="M1.1 0.4h2v2.8h-2zM0 3.2h4.2M2.1 3.2v2.2" stroke="#222" stroke-width="0.7" fill="none"/><path d="M2.6 0.4v2.8" stroke="#222" stroke-width="0.6"/></svg>
<svg style="position:absolute;left:821px;top:555.3px;overflow:visible" width="4.5" height="4.5" viewBox="0 0 4.5 4.5"><path d="M0.5 0.5l3.5 3.5M4 0.5l-3.5 3.5" stroke="#777" stroke-width="0.7"/></svg>
<div style="position:absolute;left:157.6px;top:564.2px;width:671.4px;height:36.3px;background:#f0f0f0;border:0.8px solid #b4b4b4;box-sizing:border-box"></div>
<div style="position:absolute;left:158.4px;top:565px;width:670px;height:24.4px;background:#fff"></div>
<div class="t " style="left:164px;top:566px;font-size:8.5px;color:#111">DSE Lite v3.12, (c)Parker Hannifin Corporation 1989-2022.  All Rights Reserved.</div>
<div class="t " style="left:164px;top:574.8px;font-size:8.5px;color:#111">Tue Jan 03 15:40:18 2023</div>
<svg style="position:absolute;left:820.5px;top:568.8px;overflow:visible" width="5" height="3" viewBox="0 0 5 3"><path d="M0.4 2.6L2.5 0.6 4.6 2.6" stroke="#666" stroke-width="0.8" fill="none"/></svg>
<svg style="position:absolute;left:820.5px;top:584.5px;overflow:visible" width="5" height="3" viewBox="0 0 5 3"><path d="M0.4 0.4L2.5 2.4 4.6 0.4" stroke="#666" stroke-width="0.8" fill="none"/></svg>
<svg style="position:absolute;left:162.5px;top:592.5px;overflow:visible" width="3" height="5" viewBox="0 0 3 5"><path d="M2.6 0.4L0.5 2.5 2.6 4.6" stroke="#bbb" stroke-width="0.7" fill="none"/></svg>
<svg style="position:absolute;left:811.5px;top:592.5px;overflow:visible" width="3" height="5" viewBox="0 0 3 5"><path d="M0.4 0.4L2.5 2.5 0.4 4.6" stroke="#bbb" stroke-width="0.7" fill="none"/></svg>
<div class="t " style="left:1px;top:603.6px;font-size:6.5px;color:#222">Ready</div>
<div style="position:absolute;left:390.1px;top:602.4px;width:242.60000000000002px;height:11px;border:0.7px solid #c4c4c4;border-bottom:none;box-sizing:border-box"></div>
<div style="position:absolute;left:634.7px;top:602.4px;width:121.19999999999993px;height:11px;border:0.7px solid #c4c4c4;border-bottom:none;box-sizing:border-box"></div>
<div style="position:absolute;left:758.4px;top:602.4px;width:16.600000000000023px;height:11px;border:0.7px solid #c4c4c4;border-bottom:none;box-sizing:border-box"></div>
<div style="position:absolute;left:776.2px;top:602.4px;width:20.299999999999955px;height:11px;border:0.7px solid #c4c4c4;border-bottom:none;box-sizing:border-box"></div>
<div style="position:absolute;left:798.5px;top:602.4px;width:18.299999999999955px;height:11px;border:0.7px solid #c4c4c4;border-bottom:none;box-sizing:border-box"></div>
<div class="t " style="left:777.8px;top:603.6px;font-size:7.3px;color:#222">NUM</div>
<svg style="position:absolute;left:821px;top:605px;overflow:visible" width="8" height="8" viewBox="0 0 8 8"><path d="M7.5 1L1 7.5M7.5 3.5L3.5 7.5M7.5 6L6 7.5" stroke="#b0b0b0" stroke-width="0.7"/></svg>
<svg style="position:absolute;left:0;top:0;will-change:transform" width="831" height="613" viewBox="0 0 831 613"><defs><clipPath id="cp"><rect x="161" y="74.5" width="640" height="442.3"/></clipPath></defs><g clip-path="url(#cp)" font-family="Liberation Sans"><rect x="200.80" y="93.80" width="36.40" height="39.10" fill="#fff" stroke="#000" stroke-width="1.4"/><text x="219.00" y="91.90" transform="rotate(0.05 219.00 91.90)" text-anchor="middle" fill="#000" stroke="#000" stroke-width="0.3" font-size="4.6" font-weight="bold">ANIN 1 (X3.1)</text><path d="M238.60 98.50 L242.10 98.50" stroke="#141414" stroke-width="0.9" fill="none"/><path d="M238.60 104.42 L242.10 104.42" stroke="#141414" stroke-width="0.9" fill="none"/><path d="M238.60 110.34 L242.10 110.34" stroke="#141414" stroke-width="0.9" fill="none"/><path d="M238.60 116.26 L242.10 116.26" stroke="#141414" stroke-width="0.9" fill="none"/><path d="M238.60 122.18 L242.10 122.18" stroke="#141414" stroke-width="0.9" fill="none"/><path d="M238.60 128.10 L242.10 128.10" stroke="#626262" stroke-width="0.9" fill="none"/><text x="236.60" y="100.50" transform="rotate(0.05 236.60 100.50)" text-anchor="end" fill="#141414" stroke="#141414" stroke-width="0.1" font-size="4.8">VALUE</text><text x="239.20" y="98.30" transform="rotate(0.05 239.20 98.30)" text-anchor="start" fill="#333" stroke="#333" stroke-width="0.1" font-size="4.8">0 %</text><text x="236.60" y="106.42" transform="rotate(0.05 236.60 106.42)" text-anchor="end" fill="#141414" stroke="#141414" stroke-width="0.1" font-size="4.8">BREAK</text><text x="239.20" y="104.22" transform="rotate(0.05 239.20 104.22)" text-anchor="start" fill="#626262" stroke="#626262" stroke-width="0.1" font-size="4.8">FALSE</text><path d="M195.90 110.34 L199.40 110.34" stroke="#141414" stroke-width="0.9" fill="none"/><text x="201.50" y="112.34" transform="rotate(0.05 201.50 112.34)" text-anchor="start" fill="#141414" stroke="#141414" stroke-width="0.1" font-size="4.8">SCALE</text><text x="199.10" y="110.54" transform="rotate(0.05 199.10 110.54)" text-anchor="end" fill="#333" stroke="#333" stroke-width="0.1" font-size="4.8">100 %</text><path d="M195.90 116.26 L199.40 116.26" stroke="#141414" stroke-width="0.9" fill="none"/><text x="201.50" y="118.26" transform="rotate(0.05 201.50 118.26)" text-anchor="start" fill="#626262" stroke="#626262" stroke-width="0.1" font-size="4.8">OFFSET</text><text x="199.10" y="116.46" transform="rotate(0.05 199.10 116.46)" text-anchor="end" fill="#333" stroke="#333" stroke-width="0.1" font-size="4.8">0 %</text><path d="M195.90 122.18 L199.40 122.18" stroke="#141414" stroke-width="0.9" fill="none"/><text x="201.50" y="124.18" transform="rotate(0.05 201.50 124.18)" text-anchor="start" fill="#333" stroke="#333" stroke-width="0.1" font-size="4.8">TYPE</text><text x="199.10" y="122.38" transform="rotate(0.05 199.10 122.38)" text-anchor="end" fill="#333" stroke="#333" stroke-width="0.1" font-size="4.8">0..10 V</text><path d="M195.90 128.10 L199.40 128.10" stroke="#141414" stroke-width="0.9" fill="none"/><text x="201.50" y="130.10" transform="rotate(0.05 201.50 130.10)" text-anchor="start" fill="#626262" stroke="#626262" stroke-width="0.1" font-size="4.8">BREAK VALUE</text><text x="199.10" y="128.30" transform="rotate(0.05 199.10 128.30)" text-anchor="end" fill="#333" stroke="#333" stroke-width="0.1" font-size="4.8">0 %</text><rect x="200.80" y="142.60" width="36.40" height="38.30" fill="#fff" stroke="#000" stroke-width="1.4"/><text x="219.00" y="140.70" transform="rotate(0.05 219.00 140.70)" text-anchor="middle" fill="#000" stroke="#000" stroke-width="0.3" font-size="4.6" font-weight="bold">ANIN 2 (X3.2)</text><path d="M238.60 147.30 L242.10 147.30" stroke="#141414" stroke-width="0.9" fill="none"/><path d="M238.60 153.22 L242.10 153.22" stroke="#141414" stroke-width="0.9" fill="none"/><path d="M238.60 159.14 L242.10 159.14" stroke="#141414" stroke-width="0.9" fill="none"/><path d="M238.60 165.06 L242.10 165.06" stroke="#141414" stroke-width="0.9" fill="none"/><path d="M238.60 170.98 L242.10 170.98" stroke="#626262" stroke-width="0.9" fill="none"/><path d="M238.60 176.90 L242.10 176.90" stroke="#626262" stroke-width="0.9" fill="none"/><text x="236.60" y="149.30" transform="rotate(0.05 236.60 149.30)" text-anchor="end" fill="#141414" stroke="#141414" stroke-width="0.1" font-size="4.8">VALUE</text><text x="239.20" y="147.10" transform="rotate(0.05 239.20 147.10)" text-anchor="start" fill="#333" stroke="#333" stroke-width="0.1" font-size="4.8">0 %</text><text x="236.60" y="155.22" transform="rotate(0.05 236.60 155.22)" text-anchor="end" fill="#141414" stroke="#141414" stroke-width="0.1" font-size="4.8">BREAK</text><text x="239.20" y="153.02" transform="rotate(0.05 239.20 153.02)" text-anchor="start" fill="#626262" stroke="#626262" stroke-width="0.1" font-size="4.8">FALSE</text><path d="M195.90 159.14 L199.40 159.14" stroke="#141414" stroke-width="0.9" fill="none"/><text x="201.50" y="161.14" transform="rotate(0.05 201.50 161.14)" text-anchor="start" fill="#626262" stroke="#626262" stroke-width="0.1" font-size="4.8">SCALE</text><text x="199.10" y="159.34" transform="rotate(0.05 199.10 159.34)" text-anchor="end" fill="#333" stroke="#333" stroke-width="0.1" font-size="4.8">100 %</text><path d="M195.90 165.06 L199.40 165.06" stroke="#141414" stroke-width="0.9" fill="none"/><text x="201.50" y="167.06" transform="rotate(0.05 201.50 167.06)" text-anchor="start" fill="#626262" stroke="#626262" stroke-width="0.1" font-size="4.8">OFFSET</text><text x="199.10" y="165.26" transform="rotate(0.05 199.10 165.26)" text-anchor="end" fill="#333" stroke="#333" stroke-width="0.1" font-size="4.8">0 %</text><path d="M195.90 170.98 L199.40 170.98" stroke="#141414" stroke-width="0.9" fill="none"/><text x="201.50" y="172.98" transform="rotate(0.05 201.50 172.98)" text-anchor="start" fill="#141414" stroke="#141414" stroke-width="0.1" font-size="4.8">TYPE</text><text x="199.10" y="171.18" transform="rotate(0.05 199.10 171.18)" text-anchor="end" fill="#d02828" stroke="#d02828" stroke-width="0.1" font-size="4.8">4..20 mA</text><path d="M195.90 176.90 L199.40 176.90" stroke="#141414" stroke-width="0.9" fill="none"/><text x="201.50" y="178.90" transform="rotate(0.05 201.50 178.90)" text-anchor="start" fill="#626262" stroke="#626262" stroke-width="0.1" font-size="4.8">BREAK VALUE</text><text x="199.10" y="177.10" transform="rotate(0.05 199.10 177.10)" text-anchor="end" fill="#333" stroke="#333" stroke-width="0.1" font-size="4.8">0 %</text><rect x="295.90" y="104.00" width="34.30" height="32.90" fill="#fff" stroke="#000" stroke-width="1.4"/><text x="313.05" y="102.10" transform="rotate(0.05 313.05 102.10)" text-anchor="middle" fill="#000" stroke="#000" stroke-width="0.3" font-size="4.6" font-weight="bold">Value Func 1</text><path d="M331.60 109.20 L335.10 109.20" stroke="#141414" stroke-width="0.9" fill="none"/><path d="M331.60 114.92 L335.10 114.92" stroke="#141414" stroke-width="0.9" fill="none"/><path d="M331.60 120.65 L335.10 120.65" stroke="#141414" stroke-width="0.9" fill="none"/><path d="M331.60 126.38 L335.10 126.38" stroke="#141414" stroke-width="0.9" fill="none"/><path d="M331.60 132.10 L335.10 132.10" stroke="#141414" stroke-width="0.9" fill="none"/><text x="329.60" y="111.20" transform="rotate(0.05 329.60 111.20)" text-anchor="end" fill="#141414" stroke="#141414" stroke-width="0.1" font-size="4.8">OUTPUT</text><text x="332.20" y="109.00" transform="rotate(0.05 332.20 109.00)" text-anchor="start" fill="#333" stroke="#333" stroke-width="0.1" font-size="4.8">0</text><path d="M291.00 114.92 L294.50 114.92" stroke="#141414" stroke-width="0.9" fill="none"/><text x="296.60" y="116.92" transform="rotate(0.05 296.60 116.92)" text-anchor="start" fill="#141414" stroke="#141414" stroke-width="0.1" font-size="4.8">INPUT A</text><text x="294.20" y="115.12" transform="rotate(0.05 294.20 115.12)" text-anchor="end" fill="#333" stroke="#333" stroke-width="0.1" font-size="4.8">0</text><path d="M291.00 120.65 L294.50 120.65" stroke="#141414" stroke-width="0.9" fill="none"/><text x="296.60" y="122.65" transform="rotate(0.05 296.60 122.65)" text-anchor="start" fill="#141414" stroke="#141414" stroke-width="0.1" font-size="4.8">INPUT B</text><text x="294.20" y="120.85" transform="rotate(0.05 294.20 120.85)" text-anchor="end" fill="#333" stroke="#333" stroke-width="0.1" font-size="4.8">0</text><path d="M291.00 126.38 L294.50 126.38" stroke="#141414" stroke-width="0.9" fill="none"/><text x="296.60" y="128.38" transform="rotate(0.05 296.60 128.38)" text-anchor="start" fill="#141414" stroke="#141414" stroke-width="0.1" font-size="4.8">INPUT C</text><text x="294.20" y="126.58" transform="rotate(0.05 294.20 126.58)" text-anchor="end" fill="#333" stroke="#333" stroke-width="0.1" font-size="4.8">0</text><path d="M291.00 132.10 L294.50 132.10" stroke="#141414" stroke-width="0.9" fill="none"/><text x="296.60" y="134.10" transform="rotate(0.05 296.60 134.10)" text-anchor="start" fill="#141414" stroke="#141414" stroke-width="0.1" font-size="4.8">TYPE</text><text x="294.20" y="132.30" transform="rotate(0.05 294.20 132.30)" text-anchor="end" fill="#d02828" stroke="#d02828" stroke-width="0.1" font-size="4.8">A+B+C</text><rect x="381.00" y="104.20" width="36.60" height="38.00" fill="#fff" stroke="#000" stroke-width="1.4"/><text x="399.30" y="102.30" transform="rotate(0.05 399.30 102.30)" text-anchor="middle" fill="#000" stroke="#000" stroke-width="0.3" font-size="4.6" font-weight="bold">Skip Frequencies</text><path d="M419.00 109.20 L422.50 109.20" stroke="#141414" stroke-width="0.9" fill="none"/><path d="M419.00 115.06 L422.50 115.06" stroke="#141414" stroke-width="0.9" fill="none"/><path d="M419.00 120.92 L422.50 120.92" stroke="#141414" stroke-width="0.9" fill="none"/><path d="M419.00 126.78 L422.50 126.78" stroke="#141414" stroke-width="0.9" fill="none"/><path d="M419.00 132.64 L422.50 132.64" stroke="#141414" stroke-width="0.9" fill="none"/><path d="M419.00 138.50 L422.50 138.50" stroke="#141414" stroke-width="0.9" fill="none"/><text x="417.00" y="111.20" transform="rotate(0.05 417.00 111.20)" text-anchor="end" fill="#141414" stroke="#141414" stroke-width="0.1" font-size="4.8">OUTPUT</text><text x="419.60" y="109.00" transform="rotate(0.05 419.60 109.00)" text-anchor="start" fill="#333" stroke="#333" stroke-width="0.1" font-size="4.8">0 %</text><path d="M376.10 115.06 L379.60 115.06" stroke="#141414" stroke-width="0.9" fill="none"/><text x="381.70" y="117.06" transform="rotate(0.05 381.70 117.06)" text-anchor="start" fill="#626262" stroke="#626262" stroke-width="0.1" font-size="4.8">INPUT</text><text x="379.30" y="115.26" transform="rotate(0.05 379.30 115.26)" text-anchor="end" fill="#333" stroke="#333" stroke-width="0.1" font-size="4.8">0 %</text><path d="M376.10 120.92 L379.60 120.92" stroke="#141414" stroke-width="0.9" fill="none"/><text x="381.70" y="122.92" transform="rotate(0.05 381.70 122.92)" text-anchor="start" fill="#626262" stroke="#626262" stroke-width="0.1" font-size="4.8">BAND 1</text><text x="379.30" y="121.12" transform="rotate(0.05 379.30 121.12)" text-anchor="end" fill="#333" stroke="#333" stroke-width="0.1" font-size="4.8">0 Hz</text><path d="M376.10 126.78 L379.60 126.78" stroke="#141414" stroke-width="0.9" fill="none"/><text x="381.70" y="128.78" transform="rotate(0.05 381.70 128.78)" text-anchor="start" fill="#626262" stroke="#626262" stroke-width="0.1" font-size="4.8">FREQUENCY 1</text><text x="379.30" y="126.98" transform="rotate(0.05 379.30 126.98)" text-anchor="end" fill="#333" stroke="#333" stroke-width="0.1" font-size="4.8">0 Hz</text><path d="M376.10 132.64 L379.60 132.64" stroke="#141414" stroke-width="0.9" fill="none"/><text x="381.70" y="134.64" transform="rotate(0.05 381.70 134.64)" text-anchor="start" fill="#141414" stroke="#141414" stroke-width="0.1" font-size="4.8">BAND 2</text><text x="379.30" y="132.84" transform="rotate(0.05 379.30 132.84)" text-anchor="end" fill="#333" stroke="#333" stroke-width="0.1" font-size="4.8">0 Hz</text><path d="M376.10 138.50 L379.60 138.50" stroke="#141414" stroke-width="0.9" fill="none"/><text x="381.70" y="140.50" transform="rotate(0.05 381.70 140.50)" text-anchor="start" fill="#626262" stroke="#626262" stroke-width="0.1" font-size="4.8">FREQUENCY 2</text><text x="379.30" y="138.70" transform="rotate(0.05 379.30 138.70)" text-anchor="end" fill="#333" stroke="#333" stroke-width="0.1" font-size="4.8">0 Hz</text><rect x="467.00" y="104.20" width="37.10" height="26.90" fill="#fff" stroke="#000" stroke-width="1.4"/><text x="485.55" y="102.30" transform="rotate(0.05 485.55 102.30)" text-anchor="middle" fill="#000" stroke="#000" stroke-width="0.3" font-size="4.6" font-weight="bold">Minimum Speed</text><path d="M505.50 109.20 L509.00 109.20" stroke="#141414" stroke-width="0.9" fill="none"/><path d="M505.50 115.07 L509.00 115.07" stroke="#141414" stroke-width="0.9" fill="none"/><path d="M505.50 120.93 L509.00 120.93" stroke="#141414" stroke-width="0.9" fill="none"/><path d="M505.50 126.80 L509.00 126.80" stroke="#141414" stroke-width="0.9" fill="none"/><text x="503.50" y="111.20" transform="rotate(0.05 503.50 111.20)" text-anchor="end" fill="#141414" stroke="#141414" stroke-width="0.1" font-size="4.8">OUTPUT</text><text x="506.10" y="109.00" transform="rotate(0.05 506.10 109.00)" text-anchor="start" fill="#333" stroke="#333" stroke-width="0.1" font-size="4.8">0</text><path d="M462.10 115.07 L465.60 115.07" stroke="#141414" stroke-width="0.9" fill="none"/><text x="467.70" y="117.07" transform="rotate(0.05 467.70 117.07)" text-anchor="start" fill="#141414" stroke="#141414" stroke-width="0.1" font-size="4.8">INPUT</text><text x="465.30" y="115.27" transform="rotate(0.05 465.30 115.27)" text-anchor="end" fill="#333" stroke="#333" stroke-width="0.1" font-size="4.8">0 %</text><path d="M462.10 120.93 L465.60 120.93" stroke="#141414" stroke-width="0.9" fill="none"/><text x="467.70" y="122.93" transform="rotate(0.05 467.70 122.93)" text-anchor="start" fill="#626262" stroke="#626262" stroke-width="0.1" font-size="4.8">MINIMUM</text><text x="465.30" y="121.13" transform="rotate(0.05 465.30 121.13)" text-anchor="end" fill="#333" stroke="#333" stroke-width="0.1" font-size="4.8">0 %</text><path d="M462.10 126.80 L465.60 126.80" stroke="#141414" stroke-width="0.9" fill="none"/><text x="467.70" y="128.80" transform="rotate(0.05 467.70 128.80)" text-anchor="start" fill="#626262" stroke="#626262" stroke-width="0.1" font-size="4.8">MODE</text><text x="465.30" y="127.00" transform="rotate(0.05 465.30 127.00)" text-anchor="end" fill="#333" stroke="#333" stroke-width="0.1" font-size="4.8">PROP W/MIN</text><rect x="562.00" y="105.40" width="56.90" height="78.50" fill="#fff" stroke="#000" stroke-width="1.4"/><text x="590.45" y="103.50" transform="rotate(0.05 590.45 103.50)" text-anchor="middle" fill="#000" stroke="#000" stroke-width="0.3" font-size="4.6" font-weight="bold">Reference</text><path d="M620.30 110.90 L623.80 110.90" stroke="#141414" stroke-width="0.9" fill="none"/><path d="M620.30 116.62 L623.80 116.62" stroke="#141414" stroke-width="0.9" fill="none"/><path d="M620.30 122.35 L623.80 122.35" stroke="#141414" stroke-width="0.9" fill="none"/><path d="M620.30 128.07 L623.80 128.07" stroke="#141414" stroke-width="0.9" fill="none"/><path d="M620.30 133.80 L623.80 133.80" stroke="#141414" stroke-width="0.9" fill="none"/><path d="M620.30 139.53 L623.80 139.53" stroke="#141414" stroke-width="0.9" fill="none"/><path d="M620.30 145.25 L623.80 145.25" stroke="#141414" stroke-width="0.9" fill="none"/><path d="M620.30 150.97 L623.80 150.97" stroke="#141414" stroke-width="0.9" fill="none"/><path d="M620.30 156.70 L623.80 156.70" stroke="#141414" stroke-width="0.9" fill="none"/><path d="M620.30 162.43 L623.80 162.43" stroke="#141414" stroke-width="0.9" fill="none"/><path d="M620.30 168.15 L623.80 168.15" stroke="#626262" stroke-width="0.9" fill="none"/><path d="M620.30 173.88 L623.80 173.88" stroke="#626262" stroke-width="0.9" fill="none"/><path d="M620.30 179.60 L623.80 179.60" stroke="#626262" stroke-width="0.9" fill="none"/><text x="618.30" y="112.90" transform="rotate(0.05 618.30 112.90)" text-anchor="end" fill="#141414" stroke="#141414" stroke-width="0.1" font-size="4.8">LOCAL SETPOINT</text><text x="620.90" y="110.70" transform="rotate(0.05 620.90 110.70)" text-anchor="start" fill="#333" stroke="#333" stroke-width="0.1" font-size="4.8">0 %</text><text x="618.30" y="118.62" transform="rotate(0.05 618.30 118.62)" text-anchor="end" fill="#626262" stroke="#626262" stroke-width="0.1" font-size="4.8">SPEED DEMAND</text><text x="620.90" y="116.42" transform="rotate(0.05 620.90 116.42)" text-anchor="start" fill="#333" stroke="#333" stroke-width="0.1" font-size="4.8">0 %</text><text x="618.30" y="124.35" transform="rotate(0.05 618.30 124.35)" text-anchor="end" fill="#626262" stroke="#626262" stroke-width="0.1" font-size="4.8">SPEED SETPOINT</text><text x="620.90" y="122.15" transform="rotate(0.05 620.90 122.15)" text-anchor="start" fill="#333" stroke="#333" stroke-width="0.1" font-size="4.8">0 %</text><text x="618.30" y="130.07" transform="rotate(0.05 618.30 130.07)" text-anchor="end" fill="#626262" stroke="#626262" stroke-width="0.1" font-size="4.8">REFERENCE</text><text x="620.90" y="127.87" transform="rotate(0.05 620.90 127.87)" text-anchor="start" fill="#333" stroke="#333" stroke-width="0.1" font-size="4.8">0 %</text><text x="618.30" y="135.80" transform="rotate(0.05 618.30 135.80)" text-anchor="end" fill="#626262" stroke="#626262" stroke-width="0.1" font-size="4.8">LOCAL REVERSE</text><text x="620.90" y="133.60" transform="rotate(0.05 620.90 133.60)" text-anchor="start" fill="#626262" stroke="#626262" stroke-width="0.1" font-size="4.8">FALSE</text><path d="M557.10 139.53 L560.60 139.53" stroke="#141414" stroke-width="0.9" fill="none"/><text x="562.70" y="141.53" transform="rotate(0.05 562.70 141.53)" text-anchor="start" fill="#626262" stroke="#626262" stroke-width="0.1" font-size="4.8">REMOTE SETPOINT</text><text x="560.30" y="139.72" transform="rotate(0.05 560.30 139.72)" text-anchor="end" fill="#333" stroke="#333" stroke-width="0.1" font-size="4.8">0 %</text><path d="M557.10 145.25 L560.60 145.25" stroke="#141414" stroke-width="0.9" fill="none"/><text x="562.70" y="147.25" transform="rotate(0.05 562.70 147.25)" text-anchor="start" fill="#141414" stroke="#141414" stroke-width="0.1" font-size="4.8">SPEED TRIM</text><text x="560.30" y="145.45" transform="rotate(0.05 560.30 145.45)" text-anchor="end" fill="#333" stroke="#333" stroke-width="0.1" font-size="4.8">0 %</text><path d="M557.10 150.97 L560.60 150.97" stroke="#141414" stroke-width="0.9" fill="none"/><text x="562.70" y="152.97" transform="rotate(0.05 562.70 152.97)" text-anchor="start" fill="#141414" stroke="#141414" stroke-width="0.1" font-size="4.8">MAX SPEED CLAMP</text><text x="560.30" y="151.17" transform="rotate(0.05 560.30 151.17)" text-anchor="end" fill="#333" stroke="#333" stroke-width="0.1" font-size="4.8">110 %</text><path d="M557.10 156.70 L560.60 156.70" stroke="#141414" stroke-width="0.9" fill="none"/><text x="562.70" y="158.70" transform="rotate(0.05 562.70 158.70)" text-anchor="start" fill="#626262" stroke="#626262" stroke-width="0.1" font-size="4.8">MIN SPEED CLAMP</text><text x="560.30" y="156.90" transform="rotate(0.05 560.30 156.90)" text-anchor="end" fill="#333" stroke="#333" stroke-width="0.1" font-size="4.8">-110 %</text><path d="M557.10 162.43 L560.60 162.43" stroke="#141414" stroke-width="0.9" fill="none"/><text x="562.70" y="164.43" transform="rotate(0.05 562.70 164.43)" text-anchor="start" fill="#141414" stroke="#141414" stroke-width="0.1" font-size="4.8">TRIM IN LOCAL</text><text x="560.30" y="162.62" transform="rotate(0.05 560.30 162.62)" text-anchor="end" fill="#333" stroke="#333" stroke-width="0.1" font-size="4.8">FALSE</text><path d="M557.10 168.15 L560.60 168.15" stroke="#141414" stroke-width="0.9" fill="none"/><text x="562.70" y="170.15" transform="rotate(0.05 562.70 170.15)" text-anchor="start" fill="#626262" stroke="#626262" stroke-width="0.1" font-size="4.8">LOCAL MIN SPEED</text><text x="560.30" y="168.35" transform="rotate(0.05 560.30 168.35)" text-anchor="end" fill="#333" stroke="#333" stroke-width="0.1" font-size="4.8">0 %</text><path d="M557.10 173.88 L560.60 173.88" stroke="#141414" stroke-width="0.9" fill="none"/><text x="562.70" y="175.88" transform="rotate(0.05 562.70 175.88)" text-anchor="start" fill="#626262" stroke="#626262" stroke-width="0.1" font-size="4.8">MAX SPEED</text><text x="560.30" y="174.07" transform="rotate(0.05 560.30 174.07)" text-anchor="end" fill="#333" stroke="#333" stroke-width="0.1" font-size="4.8">1500 rpm</text><path d="M557.10 179.60 L560.60 179.60" stroke="#141414" stroke-width="0.9" fill="none"/><text x="562.70" y="181.60" transform="rotate(0.05 562.70 181.60)" text-anchor="start" fill="#626262" stroke="#626262" stroke-width="0.1" font-size="4.8">COMMS SETPOINT</text><text x="560.30" y="179.80" transform="rotate(0.05 560.30 179.80)" text-anchor="end" fill="#333" stroke="#333" stroke-width="0.1" font-size="4.8">0 %</text><rect x="694.70" y="111.20" width="34.60" height="32.80" fill="#fff" stroke="#000" stroke-width="1.4"/><text x="712.00" y="109.30" transform="rotate(0.05 712.00 109.30)" text-anchor="middle" fill="#000" stroke="#000" stroke-width="0.3" font-size="4.6" font-weight="bold">ANOUT 1 (X3.3)</text><path d="M730.70 116.20 L734.20 116.20" stroke="#141414" stroke-width="0.9" fill="none"/><path d="M730.70 122.15 L734.20 122.15" stroke="#141414" stroke-width="0.9" fill="none"/><path d="M730.70 128.10 L734.20 128.10" stroke="#626262" stroke-width="0.9" fill="none"/><path d="M730.70 134.05 L734.20 134.05" stroke="#626262" stroke-width="0.9" fill="none"/><path d="M730.70 140.00 L734.20 140.00" stroke="#141414" stroke-width="0.9" fill="none"/><path d="M689.80 116.20 L693.30 116.20" stroke="#141414" stroke-width="0.9" fill="none"/><text x="695.40" y="118.20" transform="rotate(0.05 695.40 118.20)" text-anchor="start" fill="#626262" stroke="#626262" stroke-width="0.1" font-size="4.8">VALUE</text><text x="693.00" y="116.40" transform="rotate(0.05 693.00 116.40)" text-anchor="end" fill="#333" stroke="#333" stroke-width="0.1" font-size="4.8">0 %</text><path d="M689.80 122.15 L693.30 122.15" stroke="#141414" stroke-width="0.9" fill="none"/><text x="695.40" y="124.15" transform="rotate(0.05 695.40 124.15)" text-anchor="start" fill="#626262" stroke="#626262" stroke-width="0.1" font-size="4.8">SCALE</text><text x="693.00" y="122.35" transform="rotate(0.05 693.00 122.35)" text-anchor="end" fill="#333" stroke="#333" stroke-width="0.1" font-size="4.8">100 %</text><path d="M689.80 128.10 L693.30 128.10" stroke="#141414" stroke-width="0.9" fill="none"/><text x="695.40" y="130.10" transform="rotate(0.05 695.40 130.10)" text-anchor="start" fill="#141414" stroke="#141414" stroke-width="0.1" font-size="4.8">OFFSET</text><text x="693.00" y="128.30" transform="rotate(0.05 693.00 128.30)" text-anchor="end" fill="#333" stroke="#333" stroke-width="0.1" font-size="4.8">0 %</text><path d="M689.80 134.05 L693.30 134.05" stroke="#141414" stroke-width="0.9" fill="none"/><text x="695.40" y="136.05" transform="rotate(0.05 695.40 136.05)" text-anchor="start" fill="#626262" stroke="#626262" stroke-width="0.1" font-size="4.8">ABS</text><text x="693.00" y="134.25" transform="rotate(0.05 693.00 134.25)" text-anchor="end" fill="#333" stroke="#333" stroke-width="0.1" font-size="4.8">FALSE</text><path d="M689.80 140.00 L693.30 140.00" stroke="#141414" stroke-width="0.9" fill="none"/><text x="695.40" y="142.00" transform="rotate(0.05 695.40 142.00)" text-anchor="start" fill="#626262" stroke="#626262" stroke-width="0.1" font-size="4.8">TYPE</text><text x="693.00" y="140.20" transform="rotate(0.05 693.00 140.20)" text-anchor="end" fill="#333" stroke="#333" stroke-width="0.1" font-size="4.8">0..10 V</text><rect x="695.20" y="154.30" width="35.00" height="32.60" fill="#fff" stroke="#000" stroke-width="1.4"/><text x="712.70" y="152.40" transform="rotate(0.05 712.70 152.40)" text-anchor="middle" fill="#000" stroke="#000" stroke-width="0.3" font-size="4.6" font-weight="bold">ANOUT 2 (X3.4)</text><path d="M731.60 159.30 L735.10 159.30" stroke="#141414" stroke-width="0.9" fill="none"/><path d="M731.60 165.23 L735.10 165.23" stroke="#141414" stroke-width="0.9" fill="none"/><path d="M731.60 171.15 L735.10 171.15" stroke="#626262" stroke-width="0.9" fill="none"/><path d="M731.60 177.07 L735.10 177.07" stroke="#626262" stroke-width="0.9" fill="none"/><path d="M731.60 183.00 L735.10 183.00" stroke="#141414" stroke-width="0.9" fill="none"/><path d="M690.30 159.30 L693.80 159.30" stroke="#141414" stroke-width="0.9" fill="none"/><text x="695.90" y="161.30" transform="rotate(0.05 695.90 161.30)" text-anchor="start" fill="#626262" stroke="#626262" stroke-width="0.1" font-size="4.8">VALUE</text><text x="693.50" y="159.50" transform="rotate(0.05 693.50 159.50)" text-anchor="end" fill="#d02828" stroke="#d02828" stroke-width="0.1" font-size="4.8">100 %</text><path d="M690.30 165.23 L693.80 165.23" stroke="#141414" stroke-width="0.9" fill="none"/><text x="695.90" y="167.23" transform="rotate(0.05 695.90 167.23)" text-anchor="start" fill="#626262" stroke="#626262" stroke-width="0.1" font-size="4.8">SCALE</text><text x="693.50" y="165.43" transform="rotate(0.05 693.50 165.43)" text-anchor="end" fill="#d02828" stroke="#d02828" stroke-width="0.1" font-size="4.8">100 %</text><path d="M690.30 171.15 L693.80 171.15" stroke="#141414" stroke-width="0.9" fill="none"/><text x="695.90" y="173.15" transform="rotate(0.05 695.90 173.15)" text-anchor="start" fill="#141414" stroke="#141414" stroke-width="0.1" font-size="4.8">OFFSET</text><text x="693.50" y="171.35" transform="rotate(0.05 693.50 171.35)" text-anchor="end" fill="#333" stroke="#333" stroke-width="0.1" font-size="4.8">0 %</text><path d="M690.30 177.07 L693.80 177.07" stroke="#141414" stroke-width="0.9" fill="none"/><text x="695.90" y="179.07" transform="rotate(0.05 695.90 179.07)" text-anchor="start" fill="#626262" stroke="#626262" stroke-width="0.1" font-size="4.8">ABS</text><text x="693.50" y="177.27" transform="rotate(0.05 693.50 177.27)" text-anchor="end" fill="#333" stroke="#333" stroke-width="0.1" font-size="4.8">FALSE</text><path d="M690.30 183.00 L693.80 183.00" stroke="#141414" stroke-width="0.9" fill="none"/><text x="695.90" y="185.00" transform="rotate(0.05 695.90 185.00)" text-anchor="start" fill="#141414" stroke="#141414" stroke-width="0.1" font-size="4.8">TYPE</text><text x="693.50" y="183.20" transform="rotate(0.05 693.50 183.20)" text-anchor="end" fill="#333" stroke="#333" stroke-width="0.1" font-size="4.8">0..10 V</text><rect x="695.00" y="197.20" width="35.00" height="32.90" fill="#fff" stroke="#000" stroke-width="1.4"/><text x="712.50" y="195.30" transform="rotate(0.05 712.50 195.30)" text-anchor="middle" fill="#000" stroke="#000" stroke-width="0.3" font-size="4.6" font-weight="bold">ANOUT 3 (X3.5)</text><path d="M731.40 202.30 L734.90 202.30" stroke="#141414" stroke-width="0.9" fill="none"/><path d="M731.40 208.23 L734.90 208.23" stroke="#141414" stroke-width="0.9" fill="none"/><path d="M731.40 214.15 L734.90 214.15" stroke="#626262" stroke-width="0.9" fill="none"/><path d="M731.40 220.07 L734.90 220.07" stroke="#626262" stroke-width="0.9" fill="none"/><path d="M731.40 226.00 L734.90 226.00" stroke="#141414" stroke-width="0.9" fill="none"/><path d="M690.10 202.30 L693.60 202.30" stroke="#141414" stroke-width="0.9" fill="none"/><text x="695.70" y="204.30" transform="rotate(0.05 695.70 204.30)" text-anchor="start" fill="#626262" stroke="#626262" stroke-width="0.1" font-size="4.8">VALUE</text><text x="693.30" y="202.50" transform="rotate(0.05 693.30 202.50)" text-anchor="end" fill="#333" stroke="#333" stroke-width="0.1" font-size="4.8">0 %</text><path d="M690.10 208.23 L693.60 208.23" stroke="#141414" stroke-width="0.9" fill="none"/><text x="695.70" y="210.23" transform="rotate(0.05 695.70 210.23)" text-anchor="start" fill="#626262" stroke="#626262" stroke-width="0.1" font-size="4.8">SCALE</text><text x="693.30" y="208.43" transform="rotate(0.05 693.30 208.43)" text-anchor="end" fill="#333" stroke="#333" stroke-width="0.1" font-size="4.8">100 %</text><path d="M690.10 214.15 L693.60 214.15" stroke="#141414" stroke-width="0.9" fill="none"/><text x="695.70" y="216.15" transform="rotate(0.05 695.70 216.15)" text-anchor="start" fill="#626262" stroke="#626262" stroke-width="0.1" font-size="4.8">OFFSET</text><text x="693.30" y="214.35" transform="rotate(0.05 693.30 214.35)" text-anchor="end" fill="#333" stroke="#333" stroke-width="0.1" font-size="4.8">0 %</text><path d="M690.10 220.07 L693.60 220.07" stroke="#141414" stroke-width="0.9" fill="none"/><text x="695.70" y="222.07" transform="rotate(0.05 695.70 222.07)" text-anchor="start" fill="#141414" stroke="#141414" stroke-width="0.1" font-size="4.8">ABS</text><text x="693.30" y="220.27" transform="rotate(0.05 693.30 220.27)" text-anchor="end" fill="#333" stroke="#333" stroke-width="0.1" font-size="4.8">FALSE</text><path d="M690.10 226.00 L693.60 226.00" stroke="#141414" stroke-width="0.9" fill="none"/><text x="695.70" y="228.00" transform="rotate(0.05 695.70 228.00)" text-anchor="start" fill="#626262" stroke="#626262" stroke-width="0.1" font-size="4.8">TYPE</text><text x="693.30" y="226.20" transform="rotate(0.05 693.30 226.20)" text-anchor="end" fill="#333" stroke="#333" stroke-width="0.1" font-size="4.8">-10..10 V</text><rect x="692.10" y="252.10" width="38.90" height="14.80" fill="#fff" stroke="#000" stroke-width="1.4"/><text x="711.55" y="250.20" transform="rotate(0.05 711.55 250.20)" text-anchor="middle" fill="#000" stroke="#000" stroke-width="0.3" font-size="4.6" font-weight="bold">RELAY 2 (X1.3-&gt;4)</text><path d="M732.40 256.90 L735.90 256.90" stroke="#626262" stroke-width="0.9" fill="none"/><path d="M732.40 262.90 L735.90 262.90" stroke="#626262" stroke-width="0.9" fill="none"/><path d="M687.20 256.90 L690.70 256.90" stroke="#141414" stroke-width="0.9" fill="none"/><text x="692.80" y="258.90" transform="rotate(0.05 692.80 258.90)" text-anchor="start" fill="#141414" stroke="#141414" stroke-width="0.1" font-size="4.8">OUTPUT</text><text x="690.40" y="257.10" transform="rotate(0.05 690.40 257.10)" text-anchor="end" fill="#333" stroke="#333" stroke-width="0.1" font-size="4.8">FALSE</text><path d="M687.20 262.90 L690.70 262.90" stroke="#141414" stroke-width="0.9" fill="none"/><text x="692.80" y="264.90" transform="rotate(0.05 692.80 264.90)" text-anchor="start" fill="#626262" stroke="#626262" stroke-width="0.1" font-size="4.8">INVERT</text><text x="690.40" y="263.10" transform="rotate(0.05 690.40 263.10)" text-anchor="end" fill="#333" stroke="#333" stroke-width="0.1" font-size="4.8">FALSE</text><rect x="692.10" y="285.00" width="38.90" height="15.40" fill="#fff" stroke="#000" stroke-width="1.4"/><text x="711.55" y="283.10" transform="rotate(0.05 711.55 283.10)" text-anchor="middle" fill="#000" stroke="#000" stroke-width="0.3" font-size="4.6" font-weight="bold">RELAY 1 (X1.1-&gt;2)</text><path d="M732.40 290.00 L735.90 290.00" stroke="#141414" stroke-width="0.9" fill="none"/><path d="M732.40 296.00 L735.90 296.00" stroke="#141414" stroke-width="0.9" fill="none"/><path d="M687.20 290.00 L690.70 290.00" stroke="#141414" stroke-width="0.9" fill="none"/><text x="692.80" y="292.00" transform="rotate(0.05 692.80 292.00)" text-anchor="start" fill="#141414" stroke="#141414" stroke-width="0.1" font-size="4.8">OUTPUT</text><text x="690.40" y="290.20" transform="rotate(0.05 690.40 290.20)" text-anchor="end" fill="#333" stroke="#333" stroke-width="0.1" font-size="4.8">FALSE</text><path d="M687.20 296.00 L690.70 296.00" stroke="#141414" stroke-width="0.9" fill="none"/><text x="692.80" y="298.00" transform="rotate(0.05 692.80 298.00)" text-anchor="start" fill="#626262" stroke="#626262" stroke-width="0.1" font-size="4.8">INVERT</text><text x="690.40" y="296.20" transform="rotate(0.05 690.40 296.20)" text-anchor="end" fill="#333" stroke="#333" stroke-width="0.1" font-size="4.8">FALSE</text><rect x="694.90" y="320.80" width="36.10" height="15.10" fill="#fff" stroke="#000" stroke-width="1.4"/><text x="712.95" y="318.90" transform="rotate(0.05 712.95 318.90)" text-anchor="middle" fill="#000" stroke="#000" stroke-width="0.3" font-size="4.6" font-weight="bold">DIG I/O 1 OUT (X5.1)</text><path d="M732.40 326.00 L735.90 326.00" stroke="#141414" stroke-width="0.9" fill="none"/><path d="M732.40 331.40 L735.90 331.40" stroke="#141414" stroke-width="0.9" fill="none"/><path d="M690.00 326.00 L693.50 326.00" stroke="#141414" stroke-width="0.9" fill="none"/><text x="695.60" y="328.00" transform="rotate(0.05 695.60 328.00)" text-anchor="start" fill="#141414" stroke="#141414" stroke-width="0.1" font-size="4.8">DIGOUT 1</text><text x="693.20" y="326.20" transform="rotate(0.05 693.20 326.20)" text-anchor="end" fill="#333" stroke="#333" stroke-width="0.1" font-size="4.8">FALSE</text><path d="M690.00 331.40 L693.50 331.40" stroke="#141414" stroke-width="0.9" fill="none"/><text x="695.60" y="333.40" transform="rotate(0.05 695.60 333.40)" text-anchor="start" fill="#626262" stroke="#626262" stroke-width="0.1" font-size="4.8">INVERT</text><text x="693.20" y="331.60" transform="rotate(0.05 693.20 331.60)" text-anchor="end" fill="#333" stroke="#333" stroke-width="0.1" font-size="4.8">FALSE</text><rect x="694.90" y="346.10" width="36.10" height="15.80" fill="#fff" stroke="#000" stroke-width="1.4"/><text x="712.95" y="344.20" transform="rotate(0.05 712.95 344.20)" text-anchor="middle" fill="#000" stroke="#000" stroke-width="0.3" font-size="4.6" font-weight="bold">DIG I/O 2 OUT (X5.2)</text><path d="M732.40 351.00 L735.90 351.00" stroke="#626262" stroke-width="0.9" fill="none"/><path d="M732.40 356.80 L735.90 356.80" stroke="#141414" stroke-width="0.9" fill="none"/><path d="M690.00 351.00 L693.50 351.00" stroke="#141414" stroke-width="0.9" fill="none"/><text x="695.60" y="353.00" transform="rotate(0.05 695.60 353.00)" text-anchor="start" fill="#626262" stroke="#626262" stroke-width="0.1" font-size="4.8">DIGOUT 2</text><text x="693.20" y="351.20" transform="rotate(0.05 693.20 351.20)" text-anchor="end" fill="#333" stroke="#333" stroke-width="0.1" font-size="4.8">FALSE</text><path d="M690.00 356.80 L693.50 356.80" stroke="#141414" stroke-width="0.9" fill="none"/><text x="695.60" y="358.80" transform="rotate(0.05 695.60 358.80)" text-anchor="start" fill="#141414" stroke="#141414" stroke-width="0.1" font-size="4.8">INVERT</text><text x="693.20" y="357.00" transform="rotate(0.05 693.20 357.00)" text-anchor="end" fill="#333" stroke="#333" stroke-width="0.1" font-size="4.8">FALSE</text><rect x="694.90" y="372.50" width="36.10" height="15.50" fill="#fff" stroke="#000" stroke-width="1.4"/><text x="712.95" y="370.60" transform="rotate(0.05 712.95 370.60)" text-anchor="middle" fill="#000" stroke="#000" stroke-width="0.3" font-size="4.6" font-weight="bold">DIG I/O 3 OUT (X5.3)</text><path d="M732.40 377.50 L735.90 377.50" stroke="#141414" stroke-width="0.9" fill="none"/><path d="M732.40 383.00 L735.90 383.00" stroke="#626262" stroke-width="0.9" fill="none"/><path d="M690.00 377.50 L693.50 377.50" stroke="#141414" stroke-width="0.9" fill="none"/><text x="695.60" y="379.50" transform="rotate(0.05 695.60 379.50)" text-anchor="start" fill="#626262" stroke="#626262" stroke-width="0.1" font-size="4.8">DIGOUT 3</text><text x="693.20" y="377.70" transform="rotate(0.05 693.20 377.70)" text-anchor="end" fill="#333" stroke="#333" stroke-width="0.1" font-size="4.8">FALSE</text><path d="M690.00 383.00 L693.50 383.00" stroke="#141414" stroke-width="0.9" fill="none"/><text x="695.60" y="385.00" transform="rotate(0.05 695.60 385.00)" text-anchor="start" fill="#626262" stroke="#626262" stroke-width="0.1" font-size="4.8">INVERT</text><text x="693.20" y="383.20" transform="rotate(0.05 693.20 383.20)" text-anchor="end" fill="#333" stroke="#333" stroke-width="0.1" font-size="4.8">FALSE</text><rect x="669.50" y="400.70" width="62.80" height="21.20" fill="#fff" stroke="#000" stroke-width="1.4"/><text x="700.90" y="398.80" transform="rotate(0.05 700.90 398.80)" text-anchor="middle" fill="#000" stroke="#000" stroke-width="0.3" font-size="4.6" font-weight="bold">At Load</text><path d="M733.70 405.80 L737.20 405.80" stroke="#141414" stroke-width="0.9" fill="none"/><path d="M733.70 411.40 L737.20 411.40" stroke="#141414" stroke-width="0.9" fill="none"/><path d="M733.70 417.00 L737.20 417.00" stroke="#141414" stroke-width="0.9" fill="none"/><text x="731.70" y="407.80" transform="rotate(0.05 731.70 407.80)" text-anchor="end" fill="#141414" stroke="#141414" stroke-width="0.1" font-size="4.8">AT OR ABOVE LOAD</text><text x="734.30" y="405.60" transform="rotate(0.05 734.30 405.60)" text-anchor="start" fill="#626262" stroke="#626262" stroke-width="0.1" font-size="4.8">FALSE</text><path d="M664.60 411.40 L668.10 411.40" stroke="#141414" stroke-width="0.9" fill="none"/><text x="670.20" y="413.40" transform="rotate(0.05 670.20 413.40)" text-anchor="start" fill="#141414" stroke="#141414" stroke-width="0.1" font-size="4.8">LEVEL</text><text x="667.80" y="411.60" transform="rotate(0.05 667.80 411.60)" text-anchor="end" fill="#333" stroke="#333" stroke-width="0.1" font-size="4.8">100 %</text><path d="M664.60 417.00 L668.10 417.00" stroke="#141414" stroke-width="0.9" fill="none"/><text x="670.20" y="419.00" transform="rotate(0.05 670.20 419.00)" text-anchor="start" fill="#626262" stroke="#626262" stroke-width="0.1" font-size="4.8">ABSOLUTE</text><text x="667.80" y="417.20" transform="rotate(0.05 667.80 417.20)" text-anchor="end" fill="#333" stroke="#333" stroke-width="0.1" font-size="4.8">FALSE</text><rect x="680.10" y="432.10" width="52.90" height="20.90" fill="#fff" stroke="#000" stroke-width="1.4"/><text x="706.55" y="430.20" transform="rotate(0.05 706.55 430.20)" text-anchor="middle" fill="#000" stroke="#000" stroke-width="0.3" font-size="4.6" font-weight="bold">Zero Speed</text><path d="M734.40 437.50 L737.90 437.50" stroke="#141414" stroke-width="0.9" fill="none"/><path d="M734.40 443.15 L737.90 443.15" stroke="#141414" stroke-width="0.9" fill="none"/><path d="M734.40 448.80 L737.90 448.80" stroke="#141414" stroke-width="0.9" fill="none"/><text x="732.40" y="439.50" transform="rotate(0.05 732.40 439.50)" text-anchor="end" fill="#626262" stroke="#626262" stroke-width="0.1" font-size="4.8">AT ZERO SPEED</text><text x="735.00" y="437.30" transform="rotate(0.05 735.00 437.30)" text-anchor="start" fill="#626262" stroke="#626262" stroke-width="0.1" font-size="4.8">TRUE</text><path d="M675.20 443.15 L678.70 443.15" stroke="#141414" stroke-width="0.9" fill="none"/><text x="680.80" y="445.15" transform="rotate(0.05 680.80 445.15)" text-anchor="start" fill="#141414" stroke="#141414" stroke-width="0.1" font-size="4.8">HYSTERISIS</text><text x="678.40" y="443.35" transform="rotate(0.05 678.40 443.35)" text-anchor="end" fill="#333" stroke="#333" stroke-width="0.1" font-size="4.8">0.5 %</text><path d="M675.20 448.80 L678.70 448.80" stroke="#141414" stroke-width="0.9" fill="none"/><text x="680.80" y="450.80" transform="rotate(0.05 680.80 450.80)" text-anchor="start" fill="#141414" stroke="#141414" stroke-width="0.1" font-size="4.8">THRESHOLD</text><text x="678.40" y="449.00" transform="rotate(0.05 678.40 449.00)" text-anchor="end" fill="#333" stroke="#333" stroke-width="0.1" font-size="4.8">1 %</text><rect x="692.30" y="464.20" width="39.10" height="15.70" fill="#fff" stroke="#000" stroke-width="1.4"/><text x="711.85" y="462.30" transform="rotate(0.05 711.85 462.30)" text-anchor="middle" fill="#000" stroke="#000" stroke-width="0.3" font-size="4.6" font-weight="bold">At Speed</text><path d="M732.80 469.00 L736.30 469.00" stroke="#141414" stroke-width="0.9" fill="none"/><path d="M732.80 474.50 L736.30 474.50" stroke="#626262" stroke-width="0.9" fill="none"/><text x="730.80" y="471.00" transform="rotate(0.05 730.80 471.00)" text-anchor="end" fill="#626262" stroke="#626262" stroke-width="0.1" font-size="4.8">AT SPEED</text><text x="733.40" y="468.80" transform="rotate(0.05 733.40 468.80)" text-anchor="start" fill="#333" stroke="#333" stroke-width="0.1" font-size="4.8">FALSE</text><path d="M687.40 474.50 L690.90 474.50" stroke="#141414" stroke-width="0.9" fill="none"/><text x="693.00" y="476.50" transform="rotate(0.05 693.00 476.50)" text-anchor="start" fill="#626262" stroke="#626262" stroke-width="0.1" font-size="4.8">HYSTERISIS</text><text x="690.60" y="474.70" transform="rotate(0.05 690.60 474.70)" text-anchor="end" fill="#333" stroke="#333" stroke-width="0.1" font-size="4.8">1 %</text><rect x="202.10" y="192.40" width="32.60" height="14.70" fill="#fff" stroke="#000" stroke-width="1.4"/><text x="218.40" y="190.50" transform="rotate(0.05 218.40 190.50)" text-anchor="middle" fill="#000" stroke="#000" stroke-width="0.3" font-size="4.6" font-weight="bold">DIG I/O 1 IN (X5.1)</text><path d="M236.10 197.00 L239.60 197.00" stroke="#141414" stroke-width="0.9" fill="none"/><path d="M236.10 202.40 L239.60 202.40" stroke="#141414" stroke-width="0.9" fill="none"/><text x="234.10" y="199.00" transform="rotate(0.05 234.10 199.00)" text-anchor="end" fill="#141414" stroke="#141414" stroke-width="0.1" font-size="4.8">DIGIN 1</text><text x="236.70" y="196.80" transform="rotate(0.05 236.70 196.80)" text-anchor="start" fill="#626262" stroke="#626262" stroke-width="0.1" font-size="4.8">FALSE</text><path d="M197.20 202.40 L200.70 202.40" stroke="#141414" stroke-width="0.9" fill="none"/><text x="202.80" y="204.40" transform="rotate(0.05 202.80 204.40)" text-anchor="start" fill="#626262" stroke="#626262" stroke-width="0.1" font-size="4.8">INVERT</text><text x="200.40" y="202.60" transform="rotate(0.05 200.40 202.60)" text-anchor="end" fill="#333" stroke="#333" stroke-width="0.1" font-size="4.8">FALSE</text><rect x="203.00" y="223.70" width="32.10" height="14.40" fill="#fff" stroke="#000" stroke-width="1.4"/><text x="219.05" y="221.80" transform="rotate(0.05 219.05 221.80)" text-anchor="middle" fill="#000" stroke="#000" stroke-width="0.3" font-size="4.6" font-weight="bold">DIG I/O 2 IN (X5.2)</text><path d="M236.50 228.20 L240.00 228.20" stroke="#141414" stroke-width="0.9" fill="none"/><path d="M236.50 233.50 L240.00 233.50" stroke="#141414" stroke-width="0.9" fill="none"/><text x="234.50" y="230.20" transform="rotate(0.05 234.50 230.20)" text-anchor="end" fill="#141414" stroke="#141414" stroke-width="0.1" font-size="4.8">DIGIN 2</text><text x="237.10" y="228.00" transform="rotate(0.05 237.10 228.00)" text-anchor="start" fill="#626262" stroke="#626262" stroke-width="0.1" font-size="4.8">FALSE</text><path d="M198.10 233.50 L201.60 233.50" stroke="#141414" stroke-width="0.9" fill="none"/><text x="203.70" y="235.50" transform="rotate(0.05 203.70 235.50)" text-anchor="start" fill="#141414" stroke="#141414" stroke-width="0.1" font-size="4.8">INVERT</text><text x="201.30" y="233.70" transform="rotate(0.05 201.30 233.70)" text-anchor="end" fill="#626262" stroke="#626262" stroke-width="0.1" font-size="4.8">FALSE</text><rect x="203.00" y="254.30" width="32.10" height="15.60" fill="#fff" stroke="#000" stroke-width="1.4"/><text x="219.05" y="252.40" transform="rotate(0.05 219.05 252.40)" text-anchor="middle" fill="#000" stroke="#000" stroke-width="0.3" font-size="4.6" font-weight="bold">DIG I/O 3 IN (X5.3)</text><path d="M236.50 259.60 L240.00 259.60" stroke="#141414" stroke-width="0.9" fill="none"/><path d="M236.50 265.00 L240.00 265.00" stroke="#626262" stroke-width="0.9" fill="none"/><text x="234.50" y="261.60" transform="rotate(0.05 234.50 261.60)" text-anchor="end" fill="#626262" stroke="#626262" stroke-width="0.1" font-size="4.8">DIGIN 3</text><text x="237.10" y="259.40" transform="rotate(0.05 237.10 259.40)" text-anchor="start" fill="#626262" stroke="#626262" stroke-width="0.1" font-size="4.8">FALSE</text><path d="M198.10 265.00 L201.60 265.00" stroke="#141414" stroke-width="0.9" fill="none"/><text x="203.70" y="267.00" transform="rotate(0.05 203.70 267.00)" text-anchor="start" fill="#626262" stroke="#626262" stroke-width="0.1" font-size="4.8">INVERT</text><text x="201.30" y="265.20" transform="rotate(0.05 201.30 265.20)" text-anchor="end" fill="#333" stroke="#333" stroke-width="0.1" font-size="4.8">FALSE</text><rect x="201.40" y="295.10" width="32.10" height="15.00" fill="#fff" stroke="#000" stroke-width="1.4"/><text x="217.45" y="293.20" transform="rotate(0.05 217.45 293.20)" text-anchor="middle" fill="#000" stroke="#000" stroke-width="0.3" font-size="4.6" font-weight="bold">DIGIN 4 (X5.4)</text><path d="M234.90 299.70 L238.40 299.70" stroke="#141414" stroke-width="0.9" fill="none"/><path d="M234.90 305.30 L238.40 305.30" stroke="#626262" stroke-width="0.9" fill="none"/><text x="232.90" y="301.70" transform="rotate(0.05 232.90 301.70)" text-anchor="end" fill="#141414" stroke="#141414" stroke-width="0.1" font-size="4.8">DIGIN 4</text><text x="235.50" y="299.50" transform="rotate(0.05 235.50 299.50)" text-anchor="start" fill="#333" stroke="#333" stroke-width="0.1" font-size="4.8">FALSE</text><path d="M196.50 305.30 L200.00 305.30" stroke="#141414" stroke-width="0.9" fill="none"/><text x="202.10" y="307.30" transform="rotate(0.05 202.10 307.30)" text-anchor="start" fill="#626262" stroke="#626262" stroke-width="0.1" font-size="4.8">INVERT</text><text x="199.70" y="305.50" transform="rotate(0.05 199.70 305.50)" text-anchor="end" fill="#333" stroke="#333" stroke-width="0.1" font-size="4.8">FALSE</text><rect x="201.40" y="329.10" width="32.10" height="16.00" fill="#fff" stroke="#000" stroke-width="1.4"/><text x="217.45" y="327.20" transform="rotate(0.05 217.45 327.20)" text-anchor="middle" fill="#000" stroke="#000" stroke-width="0.3" font-size="4.6" font-weight="bold">DIGIN 5 (X5.5)</text><path d="M234.90 333.80 L238.40 333.80" stroke="#141414" stroke-width="0.9" fill="none"/><path d="M234.90 339.50 L238.40 339.50" stroke="#626262" stroke-width="0.9" fill="none"/><text x="232.90" y="335.80" transform="rotate(0.05 232.90 335.80)" text-anchor="end" fill="#626262" stroke="#626262" stroke-width="0.1" font-size="4.8">DIGIN 5</text><text x="235.50" y="333.60" transform="rotate(0.05 235.50 333.60)" text-anchor="start" fill="#333" stroke="#333" stroke-width="0.1" font-size="4.8">TRUE</text><path d="M196.50 339.50 L200.00 339.50" stroke="#141414" stroke-width="0.9" fill="none"/><text x="202.10" y="341.50" transform="rotate(0.05 202.10 341.50)" text-anchor="start" fill="#141414" stroke="#141414" stroke-width="0.1" font-size="4.8">INVERT</text><text x="199.70" y="339.70" transform="rotate(0.05 199.70 339.70)" text-anchor="end" fill="#d02828" stroke="#d02828" stroke-width="0.1" font-size="4.8">TRUE</text><rect x="201.40" y="363.60" width="32.10" height="15.20" fill="#fff" stroke="#000" stroke-width="1.4"/><text x="217.45" y="361.70" transform="rotate(0.05 217.45 361.70)" text-anchor="middle" fill="#000" stroke="#000" stroke-width="0.3" font-size="4.6" font-weight="bold">DIGIN 6 (X5.6)</text><path d="M234.90 368.40 L238.40 368.40" stroke="#141414" stroke-width="0.9" fill="none"/><path d="M234.90 374.00 L238.40 374.00" stroke="#141414" stroke-width="0.9" fill="none"/><text x="232.90" y="370.40" transform="rotate(0.05 232.90 370.40)" text-anchor="end" fill="#141414" stroke="#141414" stroke-width="0.1" font-size="4.8">DIGIN 6</text><text x="235.50" y="368.20" transform="rotate(0.05 235.50 368.20)" text-anchor="start" fill="#626262" stroke="#626262" stroke-width="0.1" font-size="4.8">FALSE</text><path d="M196.50 374.00 L200.00 374.00" stroke="#141414" stroke-width="0.9" fill="none"/><text x="202.10" y="376.00" transform="rotate(0.05 202.10 376.00)" text-anchor="start" fill="#141414" stroke="#141414" stroke-width="0.1" font-size="4.8">INVERT</text><text x="199.70" y="374.20" transform="rotate(0.05 199.70 374.20)" text-anchor="end" fill="#333" stroke="#333" stroke-width="0.1" font-size="4.8">FALSE</text><rect x="199.90" y="397.70" width="32.50" height="15.50" fill="#fff" stroke="#000" stroke-width="1.4"/><text x="216.15" y="395.80" transform="rotate(0.05 216.15 395.80)" text-anchor="middle" fill="#000" stroke="#000" stroke-width="0.3" font-size="4.6" font-weight="bold">DIGIN 7 (X5.7)</text><path d="M233.80 402.50 L237.30 402.50" stroke="#141414" stroke-width="0.9" fill="none"/><path d="M233.80 408.00 L237.30 408.00" stroke="#141414" stroke-width="0.9" fill="none"/><text x="231.80" y="404.50" transform="rotate(0.05 231.80 404.50)" text-anchor="end" fill="#626262" stroke="#626262" stroke-width="0.1" font-size="4.8">DIGIN 7</text><text x="234.40" y="402.30" transform="rotate(0.05 234.40 402.30)" text-anchor="start" fill="#626262" stroke="#626262" stroke-width="0.1" font-size="4.8">FALSE</text><path d="M195.00 408.00 L198.50 408.00" stroke="#141414" stroke-width="0.9" fill="none"/><text x="200.60" y="410.00" transform="rotate(0.05 200.60 410.00)" text-anchor="start" fill="#141414" stroke="#141414" stroke-width="0.1" font-size="4.8">INVERT</text><text x="198.20" y="408.20" transform="rotate(0.05 198.20 408.20)" text-anchor="end" fill="#333" stroke="#333" stroke-width="0.1" font-size="4.8">FALSE</text><rect x="199.90" y="432.20" width="32.50" height="15.90" fill="#fff" stroke="#000" stroke-width="1.4"/><text x="216.15" y="430.30" transform="rotate(0.05 216.15 430.30)" text-anchor="middle" fill="#000" stroke="#000" stroke-width="0.3" font-size="4.6" font-weight="bold">DIGIN 8 (X5.8)</text><path d="M233.80 437.00 L237.30 437.00" stroke="#141414" stroke-width="0.9" fill="none"/><path d="M233.80 442.50 L237.30 442.50" stroke="#141414" stroke-width="0.9" fill="none"/><text x="231.80" y="439.00" transform="rotate(0.05 231.80 439.00)" text-anchor="end" fill="#626262" stroke="#626262" stroke-width="0.1" font-size="4.8">DIGIN 8</text><text x="234.40" y="436.80" transform="rotate(0.05 234.40 436.80)" text-anchor="start" fill="#626262" stroke="#626262" stroke-width="0.1" font-size="4.8">FALSE</text><path d="M195.00 442.50 L198.50 442.50" stroke="#141414" stroke-width="0.9" fill="none"/><text x="200.60" y="444.50" transform="rotate(0.05 200.60 444.50)" text-anchor="start" fill="#141414" stroke="#141414" stroke-width="0.1" font-size="4.8">INVERT</text><text x="198.20" y="442.70" transform="rotate(0.05 198.20 442.70)" text-anchor="end" fill="#333" stroke="#333" stroke-width="0.1" font-size="4.8">FALSE</text><rect x="199.90" y="461.10" width="48.30" height="21.10" fill="#fff" stroke="#000" stroke-width="1.4"/><text x="224.05" y="459.20" transform="rotate(0.05 224.05 459.20)" text-anchor="middle" fill="#000" stroke="#000" stroke-width="0.3" font-size="4.6" font-weight="bold">Digital Inputs</text><path d="M249.60 466.00 L253.10 466.00" stroke="#141414" stroke-width="0.9" fill="none"/><path d="M249.60 471.75 L253.10 471.75" stroke="#141414" stroke-width="0.9" fill="none"/><path d="M249.60 477.50 L253.10 477.50" stroke="#626262" stroke-width="0.9" fill="none"/><text x="247.60" y="468.00" transform="rotate(0.05 247.60 468.00)" text-anchor="end" fill="#626262" stroke="#626262" stroke-width="0.1" font-size="4.8">DIGIN WORD</text><text x="250.20" y="465.80" transform="rotate(0.05 250.20 465.80)" text-anchor="start" fill="#333" stroke="#333" stroke-width="0.1" font-size="4.8">0x0000</text><text x="247.60" y="473.75" transform="rotate(0.05 247.60 473.75)" text-anchor="end" fill="#141414" stroke="#141414" stroke-width="0.1" font-size="4.8">STO INACTIVE</text><text x="250.20" y="471.55" transform="rotate(0.05 250.20 471.55)" text-anchor="start" fill="#626262" stroke="#626262" stroke-width="0.1" font-size="4.8">FALSE</text><path d="M195.00 477.50 L198.50 477.50" stroke="#141414" stroke-width="0.9" fill="none"/><text x="200.60" y="479.50" transform="rotate(0.05 200.60 479.50)" text-anchor="start" fill="#626262" stroke="#626262" stroke-width="0.1" font-size="4.8">DIGIN PULL UP</text><text x="198.20" y="477.70" transform="rotate(0.05 198.20 477.70)" text-anchor="end" fill="#333" stroke="#333" stroke-width="0.1" font-size="4.8">FALSE</text><rect x="328.00" y="175.00" width="66.10" height="182.00" fill="#fff" stroke="#000" stroke-width="1.4"/><text x="361.05" y="173.10" transform="rotate(0.05 361.05 173.10)" text-anchor="middle" fill="#000" stroke="#000" stroke-width="0.3" font-size="4.6" font-weight="bold">Sequencing</text><path d="M395.50 181.10 L399.00 181.10" stroke="#141414" stroke-width="0.9" fill="none"/><path d="M395.50 186.81 L399.00 186.81" stroke="#141414" stroke-width="0.9" fill="none"/><path d="M395.50 192.53 L399.00 192.53" stroke="#141414" stroke-width="0.9" fill="none"/><path d="M395.50 198.24 L399.00 198.24" stroke="#141414" stroke-width="0.9" fill="none"/><path d="M395.50 203.95 L399.00 203.95" stroke="#141414" stroke-width="0.9" fill="none"/><path d="M395.50 209.67 L399.00 209.67" stroke="#141414" stroke-width="0.9" fill="none"/><path d="M395.50 215.38 L399.00 215.38" stroke="#141414" stroke-width="0.9" fill="none"/><path d="M395.50 221.09 L399.00 221.09" stroke="#141414" stroke-width="0.9" fill="none"/><path d="M395.50 226.81 L399.00 226.81" stroke="#141414" stroke-width="0.9" fill="none"/><path d="M395.50 232.52 L399.00 232.52" stroke="#141414" stroke-width="0.9" fill="none"/><path d="M395.50 238.23 L399.00 238.23" stroke="#141414" stroke-width="0.9" fill="none"/><path d="M395.50 243.95 L399.00 243.95" stroke="#141414" stroke-width="0.9" fill="none"/><path d="M395.50 249.66 L399.00 249.66" stroke="#141414" stroke-width="0.9" fill="none"/><path d="M395.50 255.37 L399.00 255.37" stroke="#141414" stroke-width="0.9" fill="none"/><path d="M395.50 261.09 L399.00 261.09" stroke="#141414" stroke-width="0.9" fill="none"/><path d="M395.50 266.80 L399.00 266.80" stroke="#141414" stroke-width="0.9" fill="none"/><path d="M395.50 272.51 L399.00 272.51" stroke="#141414" stroke-width="0.9" fill="none"/><path d="M395.50 278.23 L399.00 278.23" stroke="#141414" stroke-width="0.9" fill="none"/><path d="M395.50 283.94 L399.00 283.94" stroke="#141414" stroke-width="0.9" fill="none"/><path d="M395.50 289.65 L399.00 289.65" stroke="#141414" stroke-width="0.9" fill="none"/><path d="M395.50 295.37 L399.00 295.37" stroke="#141414" stroke-width="0.9" fill="none"/><path d="M395.50 301.08 L399.00 301.08" stroke="#141414" stroke-width="0.9" fill="none"/><path d="M395.50 306.79 L399.00 306.79" stroke="#141414" stroke-width="0.9" fill="none"/><path d="M395.50 312.51 L399.00 312.51" stroke="#141414" stroke-width="0.9" fill="none"/><path d="M395.50 318.22 L399.00 318.22" stroke="#141414" stroke-width="0.9" fill="none"/><path d="M395.50 323.93 L399.00 323.93" stroke="#141414" stroke-width="0.9" fill="none"/><path d="M395.50 329.65 L399.00 329.65" stroke="#141414" stroke-width="0.9" fill="none"/><path d="M395.50 335.36 L399.00 335.36" stroke="#141414" stroke-width="0.9" fill="none"/><path d="M395.50 341.07 L399.00 341.07" stroke="#141414" stroke-width="0.9" fill="none"/><path d="M395.50 346.79 L399.00 346.79" stroke="#626262" stroke-width="0.9" fill="none"/><path d="M395.50 352.50 L399.00 352.50" stroke="#626262" stroke-width="0.9" fill="none"/><text x="393.50" y="183.10" transform="rotate(0.05 393.50 183.10)" text-anchor="end" fill="#141414" stroke="#141414" stroke-width="0.1" font-size="4.8">REMOTE COMMAND</text><text x="396.10" y="180.90" transform="rotate(0.05 396.10 180.90)" text-anchor="start" fill="#626262" stroke="#626262" stroke-width="0.1" font-size="4.8">0x0000</text><text x="393.50" y="188.81" transform="rotate(0.05 393.50 188.81)" text-anchor="end" fill="#141414" stroke="#141414" stroke-width="0.1" font-size="4.8">CONTROL WORD</text><text x="396.10" y="186.61" transform="rotate(0.05 396.10 186.61)" text-anchor="start" fill="#626262" stroke="#626262" stroke-width="0.1" font-size="4.8">0x0000</text><text x="393.50" y="194.53" transform="rotate(0.05 393.50 194.53)" text-anchor="end" fill="#141414" stroke="#141414" stroke-width="0.1" font-size="4.8">STATUS WORD</text><text x="396.10" y="192.33" transform="rotate(0.05 396.10 192.33)" text-anchor="start" fill="#333" stroke="#333" stroke-width="0.1" font-size="4.8">0x0000</text><text x="393.50" y="200.24" transform="rotate(0.05 393.50 200.24)" text-anchor="end" fill="#141414" stroke="#141414" stroke-width="0.1" font-size="4.8">TRIPPED</text><text x="396.10" y="198.04" transform="rotate(0.05 396.10 198.04)" text-anchor="start" fill="#333" stroke="#333" stroke-width="0.1" font-size="4.8">FALSE</text><text x="393.50" y="205.95" transform="rotate(0.05 393.50 205.95)" text-anchor="end" fill="#626262" stroke="#626262" stroke-width="0.1" font-size="4.8">RUNNING</text><text x="396.10" y="203.75" transform="rotate(0.05 396.10 203.75)" text-anchor="start" fill="#333" stroke="#333" stroke-width="0.1" font-size="4.8">FALSE</text><text x="393.50" y="211.67" transform="rotate(0.05 393.50 211.67)" text-anchor="end" fill="#626262" stroke="#626262" stroke-width="0.1" font-size="4.8">JOGGING</text><text x="396.10" y="209.47" transform="rotate(0.05 396.10 209.47)" text-anchor="start" fill="#333" stroke="#333" stroke-width="0.1" font-size="4.8">FALSE</text><text x="393.50" y="217.38" transform="rotate(0.05 393.50 217.38)" text-anchor="end" fill="#141414" stroke="#141414" stroke-width="0.1" font-size="4.8">STOPPING</text><text x="396.10" y="215.18" transform="rotate(0.05 396.10 215.18)" text-anchor="start" fill="#333" stroke="#333" stroke-width="0.1" font-size="4.8">FALSE</text><text x="393.50" y="223.09" transform="rotate(0.05 393.50 223.09)" text-anchor="end" fill="#141414" stroke="#141414" stroke-width="0.1" font-size="4.8">OUTPUT CONTACTOR</text><text x="396.10" y="220.89" transform="rotate(0.05 396.10 220.89)" text-anchor="start" fill="#626262" stroke="#626262" stroke-width="0.1" font-size="4.8">FALSE</text><text x="393.50" y="228.81" transform="rotate(0.05 393.50 228.81)" text-anchor="end" fill="#141414" stroke="#141414" stroke-width="0.1" font-size="4.8">SWITCH ON ENABLE</text><text x="396.10" y="226.61" transform="rotate(0.05 396.10 226.61)" text-anchor="start" fill="#626262" stroke="#626262" stroke-width="0.1" font-size="4.8">FALSE</text><text x="393.50" y="234.52" transform="rotate(0.05 393.50 234.52)" text-anchor="end" fill="#141414" stroke="#141414" stroke-width="0.1" font-size="4.8">SWITCHED ON</text><text x="396.10" y="232.32" transform="rotate(0.05 396.10 232.32)" text-anchor="start" fill="#333" stroke="#333" stroke-width="0.1" font-size="4.8">FALSE</text><text x="393.50" y="240.23" transform="rotate(0.05 393.50 240.23)" text-anchor="end" fill="#141414" stroke="#141414" stroke-width="0.1" font-size="4.8">READY</text><text x="396.10" y="238.03" transform="rotate(0.05 396.10 238.03)" text-anchor="start" fill="#333" stroke="#333" stroke-width="0.1" font-size="4.8">FALSE</text><text x="393.50" y="245.95" transform="rotate(0.05 393.50 245.95)" text-anchor="end" fill="#626262" stroke="#626262" stroke-width="0.1" font-size="4.8">SYSTEM RESET</text><text x="396.10" y="243.75" transform="rotate(0.05 396.10 243.75)" text-anchor="start" fill="#333" stroke="#333" stroke-width="0.1" font-size="4.8">FALSE</text><text x="393.50" y="251.66" transform="rotate(0.05 393.50 251.66)" text-anchor="end" fill="#626262" stroke="#626262" stroke-width="0.1" font-size="4.8">SEQUENCING STATE</text><text x="396.10" y="249.46" transform="rotate(0.05 396.10 249.46)" text-anchor="start" fill="#333" stroke="#333" stroke-width="0.1" font-size="4.8">NOT READY TO SWITCH ON</text><text x="393.50" y="257.37" transform="rotate(0.05 393.50 257.37)" text-anchor="end" fill="#626262" stroke="#626262" stroke-width="0.1" font-size="4.8">REMOTE REV OUT</text><text x="396.10" y="255.17" transform="rotate(0.05 396.10 255.17)" text-anchor="start" fill="#333" stroke="#333" stroke-width="0.1" font-size="4.8">FALSE</text><text x="393.50" y="263.09" transform="rotate(0.05 393.50 263.09)" text-anchor="end" fill="#141414" stroke="#141414" stroke-width="0.1" font-size="4.8">HEALTHY</text><text x="396.10" y="260.89" transform="rotate(0.05 396.10 260.89)" text-anchor="start" fill="#626262" stroke="#626262" stroke-width="0.1" font-size="4.8">FALSE</text><text x="393.50" y="268.80" transform="rotate(0.05 393.50 268.80)" text-anchor="end" fill="#141414" stroke="#141414" stroke-width="0.1" font-size="4.8">FAN RUNNING</text><text x="396.10" y="266.60" transform="rotate(0.05 396.10 266.60)" text-anchor="start" fill="#626262" stroke="#626262" stroke-width="0.1" font-size="4.8">FALSE</text><path d="M323.10 272.51 L326.60 272.51" stroke="#141414" stroke-width="0.9" fill="none"/><text x="328.70" y="274.51" transform="rotate(0.05 328.70 274.51)" text-anchor="start" fill="#141414" stroke="#141414" stroke-width="0.1" font-size="4.8">RUN FORWARD</text><text x="326.30" y="272.71" transform="rotate(0.05 326.30 272.71)" text-anchor="end" fill="#333" stroke="#333" stroke-width="0.1" font-size="4.8">FALSE</text><path d="M323.10 278.23 L326.60 278.23" stroke="#141414" stroke-width="0.9" fill="none"/><text x="328.70" y="280.23" transform="rotate(0.05 328.70 280.23)" text-anchor="start" fill="#141414" stroke="#141414" stroke-width="0.1" font-size="4.8">RUN REVERSE</text><text x="326.30" y="278.43" transform="rotate(0.05 326.30 278.43)" text-anchor="end" fill="#333" stroke="#333" stroke-width="0.1" font-size="4.8">FALSE</text><path d="M323.10 283.94 L326.60 283.94" stroke="#141414" stroke-width="0.9" fill="none"/><text x="328.70" y="285.94" transform="rotate(0.05 328.70 285.94)" text-anchor="start" fill="#141414" stroke="#141414" stroke-width="0.1" font-size="4.8">NOT STOP</text><text x="326.30" y="284.14" transform="rotate(0.05 326.30 284.14)" text-anchor="end" fill="#333" stroke="#333" stroke-width="0.1" font-size="4.8">FALSE</text><path d="M323.10 289.65 L326.60 289.65" stroke="#141414" stroke-width="0.9" fill="none"/><text x="328.70" y="291.65" transform="rotate(0.05 328.70 291.65)" text-anchor="start" fill="#626262" stroke="#626262" stroke-width="0.1" font-size="4.8">JOG</text><text x="326.30" y="289.85" transform="rotate(0.05 326.30 289.85)" text-anchor="end" fill="#333" stroke="#333" stroke-width="0.1" font-size="4.8">FALSE</text><path d="M323.10 295.37 L326.60 295.37" stroke="#141414" stroke-width="0.9" fill="none"/><text x="328.70" y="297.37" transform="rotate(0.05 328.70 297.37)" text-anchor="start" fill="#626262" stroke="#626262" stroke-width="0.1" font-size="4.8">DRIVE ENABLE</text><text x="326.30" y="295.57" transform="rotate(0.05 326.30 295.57)" text-anchor="end" fill="#333" stroke="#333" stroke-width="0.1" font-size="4.8">TRUE</text><path d="M323.10 301.08 L326.60 301.08" stroke="#141414" stroke-width="0.9" fill="none"/><text x="328.70" y="303.08" transform="rotate(0.05 328.70 303.08)" text-anchor="start" fill="#141414" stroke="#141414" stroke-width="0.1" font-size="4.8">NOT FAST STOP</text><text x="326.30" y="301.28" transform="rotate(0.05 326.30 301.28)" text-anchor="end" fill="#333" stroke="#333" stroke-width="0.1" font-size="4.8">TRUE</text><path d="M323.10 306.79 L326.60 306.79" stroke="#141414" stroke-width="0.9" fill="none"/><text x="328.70" y="308.79" transform="rotate(0.05 328.70 308.79)" text-anchor="start" fill="#141414" stroke="#141414" stroke-width="0.1" font-size="4.8">NOT COAST STOP</text><text x="326.30" y="306.99" transform="rotate(0.05 326.30 306.99)" text-anchor="end" fill="#626262" stroke="#626262" stroke-width="0.1" font-size="4.8">TRUE</text><path d="M323.10 312.51 L326.60 312.51" stroke="#141414" stroke-width="0.9" fill="none"/><text x="328.70" y="314.51" transform="rotate(0.05 328.70 314.51)" text-anchor="start" fill="#141414" stroke="#141414" stroke-width="0.1" font-size="4.8">REMOTE REVERSE</text><text x="326.30" y="312.71" transform="rotate(0.05 326.30 312.71)" text-anchor="end" fill="#333" stroke="#333" stroke-width="0.1" font-size="4.8">FALSE</text><path d="M323.10 318.22 L326.60 318.22" stroke="#141414" stroke-width="0.9" fill="none"/><text x="328.70" y="320.22" transform="rotate(0.05 328.70 320.22)" text-anchor="start" fill="#141414" stroke="#141414" stroke-width="0.1" font-size="4.8">REM TRIP RESET</text><text x="326.30" y="318.42" transform="rotate(0.05 326.30 318.42)" text-anchor="end" fill="#333" stroke="#333" stroke-width="0.1" font-size="4.8">FALSE</text><path d="M323.10 323.93 L326.60 323.93" stroke="#141414" stroke-width="0.9" fill="none"/><text x="328.70" y="325.93" transform="rotate(0.05 328.70 325.93)" text-anchor="start" fill="#141414" stroke="#141414" stroke-width="0.1" font-size="4.8">TRIP RST BY RUN</text><text x="326.30" y="324.13" transform="rotate(0.05 326.30 324.13)" text-anchor="end" fill="#333" stroke="#333" stroke-width="0.1" font-size="4.8">TRUE</text><path d="M323.10 329.65 L326.60 329.65" stroke="#141414" stroke-width="0.9" fill="none"/><text x="328.70" y="331.65" transform="rotate(0.05 328.70 331.65)" text-anchor="start" fill="#626262" stroke="#626262" stroke-width="0.1" font-size="4.8">POWER UP START</text><text x="326.30" y="329.85" transform="rotate(0.05 326.30 329.85)" text-anchor="end" fill="#333" stroke="#333" stroke-width="0.1" font-size="4.8">FALSE</text><path d="M323.10 335.36 L326.60 335.36" stroke="#141414" stroke-width="0.9" fill="none"/><text x="328.70" y="337.36" transform="rotate(0.05 328.70 337.36)" text-anchor="start" fill="#626262" stroke="#626262" stroke-width="0.1" font-size="4.8">EXTERNAL TRIP</text><text x="326.30" y="335.56" transform="rotate(0.05 326.30 335.56)" text-anchor="end" fill="#333" stroke="#333" stroke-width="0.1" font-size="4.8">FALSE</text><path d="M323.10 341.07 L326.60 341.07" stroke="#141414" stroke-width="0.9" fill="none"/><text x="328.70" y="343.07" transform="rotate(0.05 328.70 343.07)" text-anchor="start" fill="#3a3ad0" stroke="#3a3ad0" stroke-width="0.1" font-size="4.8">LOCAL</text><text x="326.30" y="341.27" transform="rotate(0.05 326.30 341.27)" text-anchor="end" fill="#333" stroke="#333" stroke-width="0.1" font-size="4.8">FALSE</text><path d="M323.10 346.79 L326.60 346.79" stroke="#141414" stroke-width="0.9" fill="none"/><text x="328.70" y="348.79" transform="rotate(0.05 328.70 348.79)" text-anchor="start" fill="#3a3ad0" stroke="#3a3ad0" stroke-width="0.1" font-size="4.8">START DELAY</text><text x="326.30" y="346.99" transform="rotate(0.05 326.30 346.99)" text-anchor="end" fill="#626262" stroke="#626262" stroke-width="0.1" font-size="4.8">0 s</text><path d="M323.10 352.50 L326.60 352.50" stroke="#141414" stroke-width="0.9" fill="none"/><text x="328.70" y="354.50" transform="rotate(0.05 328.70 354.50)" text-anchor="start" fill="#141414" stroke="#141414" stroke-width="0.1" font-size="4.8">SWITCHON TIMEOUT</text><text x="326.30" y="352.70" transform="rotate(0.05 326.30 352.70)" text-anchor="end" fill="#626262" stroke="#626262" stroke-width="0.1" font-size="4.8">0 s</text><rect x="562.20" y="198.90" width="57.10" height="85.00" fill="#fff" stroke="#000" stroke-width="1.4"/><text x="590.75" y="197.00" transform="rotate(0.05 590.75 197.00)" text-anchor="middle" fill="#000" stroke="#000" stroke-width="0.3" font-size="4.6" font-weight="bold">Reference Ramp</text><path d="M620.70 205.00 L624.20 205.00" stroke="#626262" stroke-width="0.9" fill="none"/><path d="M620.70 210.69 L624.20 210.69" stroke="#141414" stroke-width="0.9" fill="none"/><path d="M620.70 216.38 L624.20 216.38" stroke="#141414" stroke-width="0.9" fill="none"/><path d="M620.70 222.08 L624.20 222.08" stroke="#141414" stroke-width="0.9" fill="none"/><path d="M620.70 227.77 L624.20 227.77" stroke="#141414" stroke-width="0.9" fill="none"/><path d="M620.70 233.46 L624.20 233.46" stroke="#141414" stroke-width="0.9" fill="none"/><path d="M620.70 239.15 L624.20 239.15" stroke="#626262" stroke-width="0.9" fill="none"/><path d="M620.70 244.85 L624.20 244.85" stroke="#626262" stroke-width="0.9" fill="none"/><path d="M620.70 250.54 L624.20 250.54" stroke="#141414" stroke-width="0.9" fill="none"/><path d="M620.70 256.23 L624.20 256.23" stroke="#141414" stroke-width="0.9" fill="none"/><path d="M620.70 261.92 L624.20 261.92" stroke="#141414" stroke-width="0.9" fill="none"/><path d="M620.70 267.62 L624.20 267.62" stroke="#141414" stroke-width="0.9" fill="none"/><path d="M620.70 273.31 L624.20 273.31" stroke="#141414" stroke-width="0.9" fill="none"/><path d="M620.70 279.00 L624.20 279.00" stroke="#626262" stroke-width="0.9" fill="none"/><text x="618.70" y="207.00" transform="rotate(0.05 618.70 207.00)" text-anchor="end" fill="#626262" stroke="#626262" stroke-width="0.1" font-size="4.8">RAMPING ACTIVE</text><text x="621.30" y="204.80" transform="rotate(0.05 621.30 204.80)" text-anchor="start" fill="#626262" stroke="#626262" stroke-width="0.1" font-size="4.8">FALSE</text><path d="M557.30 210.69 L560.80 210.69" stroke="#141414" stroke-width="0.9" fill="none"/><text x="562.90" y="212.69" transform="rotate(0.05 562.90 212.69)" text-anchor="start" fill="#626262" stroke="#626262" stroke-width="0.1" font-size="4.8">RAMP TYPE</text><text x="560.50" y="210.89" transform="rotate(0.05 560.50 210.89)" text-anchor="end" fill="#333" stroke="#333" stroke-width="0.1" font-size="4.8">LINEAR</text><path d="M557.30 216.38 L560.80 216.38" stroke="#141414" stroke-width="0.9" fill="none"/><text x="562.90" y="218.38" transform="rotate(0.05 562.90 218.38)" text-anchor="start" fill="#141414" stroke="#141414" stroke-width="0.1" font-size="4.8">ACCEL TIME</text><text x="560.50" y="216.58" transform="rotate(0.05 560.50 216.58)" text-anchor="end" fill="#333" stroke="#333" stroke-width="0.1" font-size="4.8">10 s</text><path d="M557.30 222.08 L560.80 222.08" stroke="#141414" stroke-width="0.9" fill="none"/><text x="562.90" y="224.08" transform="rotate(0.05 562.90 224.08)" text-anchor="start" fill="#141414" stroke="#141414" stroke-width="0.1" font-size="4.8">DECEL TIME</text><text x="560.50" y="222.28" transform="rotate(0.05 560.50 222.28)" text-anchor="end" fill="#333" stroke="#333" stroke-width="0.1" font-size="4.8">10 s</text><path d="M557.30 227.77 L560.80 227.77" stroke="#141414" stroke-width="0.9" fill="none"/><text x="562.90" y="229.77" transform="rotate(0.05 562.90 229.77)" text-anchor="start" fill="#626262" stroke="#626262" stroke-width="0.1" font-size="4.8">SYMMETRIC MODE</text><text x="560.50" y="227.97" transform="rotate(0.05 560.50 227.97)" text-anchor="end" fill="#333" stroke="#333" stroke-width="0.1" font-size="4.8">FALSE</text><path d="M557.30 233.46 L560.80 233.46" stroke="#141414" stroke-width="0.9" fill="none"/><text x="562.90" y="235.46" transform="rotate(0.05 562.90 235.46)" text-anchor="start" fill="#626262" stroke="#626262" stroke-width="0.1" font-size="4.8">SYMMETRIC TIME</text><text x="560.50" y="233.66" transform="rotate(0.05 560.50 233.66)" text-anchor="end" fill="#333" stroke="#333" stroke-width="0.1" font-size="4.8">10 s</text><path d="M557.30 239.15 L560.80 239.15" stroke="#141414" stroke-width="0.9" fill="none"/><text x="562.90" y="241.15" transform="rotate(0.05 562.90 241.15)" text-anchor="start" fill="#141414" stroke="#141414" stroke-width="0.1" font-size="4.8">SRAMP ACCEL</text><text x="560.50" y="239.35" transform="rotate(0.05 560.50 239.35)" text-anchor="end" fill="#333" stroke="#333" stroke-width="0.1" font-size="4.8">10 %/s²</text><path d="M557.30 244.85 L560.80 244.85" stroke="#141414" stroke-width="0.9" fill="none"/><text x="562.90" y="246.85" transform="rotate(0.05 562.90 246.85)" text-anchor="start" fill="#141414" stroke="#141414" stroke-width="0.1" font-size="4.8">SRAMP DECEL</text><text x="560.50" y="245.05" transform="rotate(0.05 560.50 245.05)" text-anchor="end" fill="#333" stroke="#333" stroke-width="0.1" font-size="4.8">10 %/s²</text><path d="M557.30 250.54 L560.80 250.54" stroke="#141414" stroke-width="0.9" fill="none"/><text x="562.90" y="252.54" transform="rotate(0.05 562.90 252.54)" text-anchor="start" fill="#141414" stroke="#141414" stroke-width="0.1" font-size="4.8">SRAMP JERK 1</text><text x="560.50" y="250.74" transform="rotate(0.05 560.50 250.74)" text-anchor="end" fill="#333" stroke="#333" stroke-width="0.1" font-size="4.8">10 %/s³</text><path d="M557.30 256.23 L560.80 256.23" stroke="#141414" stroke-width="0.9" fill="none"/><text x="562.90" y="258.23" transform="rotate(0.05 562.90 258.23)" text-anchor="start" fill="#141414" stroke="#141414" stroke-width="0.1" font-size="4.8">SRAMP JERK 2</text><text x="560.50" y="256.43" transform="rotate(0.05 560.50 256.43)" text-anchor="end" fill="#333" stroke="#333" stroke-width="0.1" font-size="4.8">10 %/s³</text><path d="M557.30 261.92 L560.80 261.92" stroke="#141414" stroke-width="0.9" fill="none"/><text x="562.90" y="263.92" transform="rotate(0.05 562.90 263.92)" text-anchor="start" fill="#141414" stroke="#141414" stroke-width="0.1" font-size="4.8">SRAMP JERK 3</text><text x="560.50" y="262.12" transform="rotate(0.05 560.50 262.12)" text-anchor="end" fill="#333" stroke="#333" stroke-width="0.1" font-size="4.8">10 %/s³</text><path d="M557.30 267.62 L560.80 267.62" stroke="#141414" stroke-width="0.9" fill="none"/><text x="562.90" y="269.62" transform="rotate(0.05 562.90 269.62)" text-anchor="start" fill="#626262" stroke="#626262" stroke-width="0.1" font-size="4.8">SRAMP JERK 4</text><text x="560.50" y="267.82" transform="rotate(0.05 560.50 267.82)" text-anchor="end" fill="#333" stroke="#333" stroke-width="0.1" font-size="4.8">10 %/s³</text><path d="M557.30 273.31 L560.80 273.31" stroke="#141414" stroke-width="0.9" fill="none"/><text x="562.90" y="275.31" transform="rotate(0.05 562.90 275.31)" text-anchor="start" fill="#626262" stroke="#626262" stroke-width="0.1" font-size="4.8">SRAMP CONTINUOUS</text><text x="560.50" y="273.51" transform="rotate(0.05 560.50 273.51)" text-anchor="end" fill="#333" stroke="#333" stroke-width="0.1" font-size="4.8">FALSE</text><path d="M557.30 279.00 L560.80 279.00" stroke="#141414" stroke-width="0.9" fill="none"/><text x="562.90" y="281.00" transform="rotate(0.05 562.90 281.00)" text-anchor="start" fill="#626262" stroke="#626262" stroke-width="0.1" font-size="4.8">RAMP HOLD</text><text x="560.50" y="279.20" transform="rotate(0.05 560.50 279.20)" text-anchor="end" fill="#333" stroke="#333" stroke-width="0.1" font-size="4.8">FALSE</text><rect x="568.50" y="303.30" width="42.60" height="20.90" fill="#fff" stroke="#000" stroke-width="1.4"/><text x="589.80" y="301.40" transform="rotate(0.05 589.80 301.40)" text-anchor="middle" fill="#000" stroke="#000" stroke-width="0.3" font-size="4.6" font-weight="bold">Reference Jog</text><path d="M612.50 308.80 L616.00 308.80" stroke="#626262" stroke-width="0.9" fill="none"/><path d="M612.50 314.40 L616.00 314.40" stroke="#141414" stroke-width="0.9" fill="none"/><path d="M612.50 320.00 L616.00 320.00" stroke="#141414" stroke-width="0.9" fill="none"/><path d="M563.60 308.80 L567.10 308.80" stroke="#141414" stroke-width="0.9" fill="none"/><text x="569.20" y="310.80" transform="rotate(0.05 569.20 310.80)" text-anchor="start" fill="#626262" stroke="#626262" stroke-width="0.1" font-size="4.8">JOG SETPOINT</text><text x="566.80" y="309.00" transform="rotate(0.05 566.80 309.00)" text-anchor="end" fill="#333" stroke="#333" stroke-width="0.1" font-size="4.8">10 %</text><path d="M563.60 314.40 L567.10 314.40" stroke="#141414" stroke-width="0.9" fill="none"/><text x="569.20" y="316.40" transform="rotate(0.05 569.20 316.40)" text-anchor="start" fill="#141414" stroke="#141414" stroke-width="0.1" font-size="4.8">JOG ACCEL TIME</text><text x="566.80" y="314.60" transform="rotate(0.05 566.80 314.60)" text-anchor="end" fill="#333" stroke="#333" stroke-width="0.1" font-size="4.8">1 s</text><path d="M563.60 320.00 L567.10 320.00" stroke="#141414" stroke-width="0.9" fill="none"/><text x="569.20" y="322.00" transform="rotate(0.05 569.20 322.00)" text-anchor="start" fill="#141414" stroke="#141414" stroke-width="0.1" font-size="4.8">JOG DECEL TIME</text><text x="566.80" y="320.20" transform="rotate(0.05 566.80 320.20)" text-anchor="end" fill="#333" stroke="#333" stroke-width="0.1" font-size="4.8">1 s</text><rect x="566.90" y="338.30" width="48.60" height="43.40" fill="#fff" stroke="#000" stroke-width="1.4"/><text x="591.20" y="336.40" transform="rotate(0.05 591.20 336.40)" text-anchor="middle" fill="#000" stroke="#000" stroke-width="0.3" font-size="4.6" font-weight="bold">Reference Stop</text><path d="M616.90 343.00 L620.40 343.00" stroke="#626262" stroke-width="0.9" fill="none"/><path d="M616.90 348.67 L620.40 348.67" stroke="#626262" stroke-width="0.9" fill="none"/><path d="M616.90 354.33 L620.40 354.33" stroke="#141414" stroke-width="0.9" fill="none"/><path d="M616.90 360.00 L620.40 360.00" stroke="#141414" stroke-width="0.9" fill="none"/><path d="M616.90 365.67 L620.40 365.67" stroke="#141414" stroke-width="0.9" fill="none"/><path d="M616.90 371.33 L620.40 371.33" stroke="#141414" stroke-width="0.9" fill="none"/><path d="M616.90 377.00 L620.40 377.00" stroke="#141414" stroke-width="0.9" fill="none"/><path d="M562.00 343.00 L565.50 343.00" stroke="#141414" stroke-width="0.9" fill="none"/><text x="567.60" y="345.00" transform="rotate(0.05 567.60 345.00)" text-anchor="start" fill="#626262" stroke="#626262" stroke-width="0.1" font-size="4.8">RUN STOP MODE</text><text x="565.20" y="343.20" transform="rotate(0.05 565.20 343.20)" text-anchor="end" fill="#333" stroke="#333" stroke-width="0.1" font-size="4.8">RAMP</text><path d="M562.00 348.67 L565.50 348.67" stroke="#141414" stroke-width="0.9" fill="none"/><text x="567.60" y="350.67" transform="rotate(0.05 567.60 350.67)" text-anchor="start" fill="#626262" stroke="#626262" stroke-width="0.1" font-size="4.8">RAMP STOP TIME</text><text x="565.20" y="348.87" transform="rotate(0.05 565.20 348.87)" text-anchor="end" fill="#333" stroke="#333" stroke-width="0.1" font-size="4.8">10 s</text><path d="M562.00 354.33 L565.50 354.33" stroke="#141414" stroke-width="0.9" fill="none"/><text x="567.60" y="356.33" transform="rotate(0.05 567.60 356.33)" text-anchor="start" fill="#626262" stroke="#626262" stroke-width="0.1" font-size="4.8">STOP ZERO SPEED</text><text x="565.20" y="354.53" transform="rotate(0.05 565.20 354.53)" text-anchor="end" fill="#333" stroke="#333" stroke-width="0.1" font-size="4.8">0.1 %</text><path d="M562.00 360.00 L565.50 360.00" stroke="#141414" stroke-width="0.9" fill="none"/><text x="567.60" y="362.00" transform="rotate(0.05 567.60 362.00)" text-anchor="start" fill="#141414" stroke="#141414" stroke-width="0.1" font-size="4.8">STOP DELAY</text><text x="565.20" y="360.20" transform="rotate(0.05 565.20 360.20)" text-anchor="end" fill="#333" stroke="#333" stroke-width="0.1" font-size="4.8">0.5 s</text><path d="M562.00 365.67 L565.50 365.67" stroke="#141414" stroke-width="0.9" fill="none"/><text x="567.60" y="367.67" transform="rotate(0.05 567.60 367.67)" text-anchor="start" fill="#141414" stroke="#141414" stroke-width="0.1" font-size="4.8">FAST STOP LIMIT</text><text x="565.20" y="365.87" transform="rotate(0.05 565.20 365.87)" text-anchor="end" fill="#333" stroke="#333" stroke-width="0.1" font-size="4.8">30 s</text><path d="M562.00 371.33 L565.50 371.33" stroke="#141414" stroke-width="0.9" fill="none"/><text x="567.60" y="373.33" transform="rotate(0.05 567.60 373.33)" text-anchor="start" fill="#626262" stroke="#626262" stroke-width="0.1" font-size="4.8">FAST STOP TIME</text><text x="565.20" y="371.53" transform="rotate(0.05 565.20 371.53)" text-anchor="end" fill="#333" stroke="#333" stroke-width="0.1" font-size="4.8">0.1 s</text><path d="M562.00 377.00 L565.50 377.00" stroke="#141414" stroke-width="0.9" fill="none"/><text x="567.60" y="379.00" transform="rotate(0.05 567.60 379.00)" text-anchor="start" fill="#626262" stroke="#626262" stroke-width="0.1" font-size="4.8">FINAL STOP RATE</text><text x="565.20" y="377.20" transform="rotate(0.05 565.20 377.20)" text-anchor="end" fill="#333" stroke="#333" stroke-width="0.1" font-size="4.8">1200 Hz/s</text><rect x="386.80" y="420.90" width="50.50" height="55.60" fill="#fff" stroke="#000" stroke-width="1.4"/><text x="412.05" y="419.00" transform="rotate(0.05 412.05 419.00)" text-anchor="middle" fill="#000" stroke="#000" stroke-width="0.3" font-size="4.6" font-weight="bold">Motor Nameplate</text><path d="M438.70 426.00 L442.20 426.00" stroke="#626262" stroke-width="0.9" fill="none"/><path d="M438.70 431.75 L442.20 431.75" stroke="#626262" stroke-width="0.9" fill="none"/><path d="M438.70 437.50 L442.20 437.50" stroke="#626262" stroke-width="0.9" fill="none"/><path d="M438.70 443.25 L442.20 443.25" stroke="#141414" stroke-width="0.9" fill="none"/><path d="M438.70 449.00 L442.20 449.00" stroke="#141414" stroke-width="0.9" fill="none"/><path d="M438.70 454.75 L442.20 454.75" stroke="#141414" stroke-width="0.9" fill="none"/><path d="M438.70 460.50 L442.20 460.50" stroke="#141414" stroke-width="0.9" fill="none"/><path d="M438.70 466.25 L442.20 466.25" stroke="#141414" stroke-width="0.9" fill="none"/><path d="M438.70 472.00 L442.20 472.00" stroke="#626262" stroke-width="0.9" fill="none"/><path d="M381.90 426.00 L385.40 426.00" stroke="#141414" stroke-width="0.9" fill="none"/><text x="387.50" y="428.00" transform="rotate(0.05 387.50 428.00)" text-anchor="start" fill="#d23cd2" stroke="#d23cd2" stroke-width="0.1" font-size="4.8">RATED CURRENT</text><text x="385.10" y="426.20" transform="rotate(0.05 385.10 426.20)" text-anchor="end" fill="#333" stroke="#333" stroke-width="0.1" font-size="4.8">1.68 A</text><path d="M381.90 431.75 L385.40 431.75" stroke="#141414" stroke-width="0.9" fill="none"/><text x="387.50" y="433.75" transform="rotate(0.05 387.50 433.75)" text-anchor="start" fill="#d23cd2" stroke="#d23cd2" stroke-width="0.1" font-size="4.8">BASE VOLTAGE</text><text x="385.10" y="431.95" transform="rotate(0.05 385.10 431.95)" text-anchor="end" fill="#333" stroke="#333" stroke-width="0.1" font-size="4.8">400 V</text><path d="M381.90 437.50 L385.40 437.50" stroke="#141414" stroke-width="0.9" fill="none"/><text x="387.50" y="439.50" transform="rotate(0.05 387.50 439.50)" text-anchor="start" fill="#d23cd2" stroke="#d23cd2" stroke-width="0.1" font-size="4.8">BASE FREQUENCY</text><text x="385.10" y="437.70" transform="rotate(0.05 385.10 437.70)" text-anchor="end" fill="#333" stroke="#333" stroke-width="0.1" font-size="4.8">50 Hz</text><path d="M381.90 443.25 L385.40 443.25" stroke="#141414" stroke-width="0.9" fill="none"/><text x="387.50" y="445.25" transform="rotate(0.05 387.50 445.25)" text-anchor="start" fill="#d23cd2" stroke="#d23cd2" stroke-width="0.1" font-size="4.8">MOTOR POLES</text><text x="385.10" y="443.45" transform="rotate(0.05 385.10 443.45)" text-anchor="end" fill="#333" stroke="#333" stroke-width="0.1" font-size="4.8">4</text><path d="M381.90 449.00 L385.40 449.00" stroke="#141414" stroke-width="0.9" fill="none"/><text x="387.50" y="451.00" transform="rotate(0.05 387.50 451.00)" text-anchor="start" fill="#d23cd2" stroke="#d23cd2" stroke-width="0.1" font-size="4.8">NAMEPLATE SPEED</text><text x="385.10" y="449.20" transform="rotate(0.05 385.10 449.20)" text-anchor="end" fill="#333" stroke="#333" stroke-width="0.1" font-size="4.8">1460 rpm</text><path d="M381.90 454.75 L385.40 454.75" stroke="#141414" stroke-width="0.9" fill="none"/><text x="387.50" y="456.75" transform="rotate(0.05 387.50 456.75)" text-anchor="start" fill="#d23cd2" stroke="#d23cd2" stroke-width="0.1" font-size="4.8">MOTOR POWER</text><text x="385.10" y="454.95" transform="rotate(0.05 385.10 454.95)" text-anchor="end" fill="#333" stroke="#333" stroke-width="0.1" font-size="4.8">0.75 kW</text><path d="M381.90 460.50 L385.40 460.50" stroke="#141414" stroke-width="0.9" fill="none"/><text x="387.50" y="462.50" transform="rotate(0.05 387.50 462.50)" text-anchor="start" fill="#d23cd2" stroke="#d23cd2" stroke-width="0.1" font-size="4.8">POWER FACTOR</text><text x="385.10" y="460.70" transform="rotate(0.05 385.10 460.70)" text-anchor="end" fill="#333" stroke="#333" stroke-width="0.1" font-size="4.8">0.71</text><path d="M381.90 466.25 L385.40 466.25" stroke="#141414" stroke-width="0.9" fill="none"/><text x="387.50" y="468.25" transform="rotate(0.05 387.50 468.25)" text-anchor="start" fill="#d23cd2" stroke="#d23cd2" stroke-width="0.1" font-size="4.8">AUTO POLE PAIRS</text><text x="385.10" y="466.45" transform="rotate(0.05 385.10 466.45)" text-anchor="end" fill="#141414" stroke="#141414" stroke-width="0.1" font-size="4.8">TRUE</text><path d="M381.90 472.00 L385.40 472.00" stroke="#141414" stroke-width="0.9" fill="none"/><text x="387.50" y="474.00" transform="rotate(0.05 387.50 474.00)" text-anchor="start" fill="#d23cd2" stroke="#d23cd2" stroke-width="0.1" font-size="4.8">IM MOTOR NAME</text><text x="385.10" y="472.20" transform="rotate(0.05 385.10 472.20)" text-anchor="end" fill="#333" stroke="#333" stroke-width="0.1" font-size="4.8">My IM name</text><rect x="492.80" y="432.00" width="50.60" height="44.80" fill="#fff" stroke="#000" stroke-width="1.4"/><text x="518.10" y="430.10" transform="rotate(0.05 518.10 430.10)" text-anchor="middle" fill="#000" stroke="#000" stroke-width="0.3" font-size="4.6" font-weight="bold">Induction Motor</text><path d="M544.80 437.70 L548.30 437.70" stroke="#626262" stroke-width="0.9" fill="none"/><path d="M544.80 443.42 L548.30 443.42" stroke="#141414" stroke-width="0.9" fill="none"/><path d="M544.80 449.13 L548.30 449.13" stroke="#141414" stroke-width="0.9" fill="none"/><path d="M544.80 454.85 L548.30 454.85" stroke="#141414" stroke-width="0.9" fill="none"/><path d="M544.80 460.57 L548.30 460.57" stroke="#141414" stroke-width="0.9" fill="none"/><path d="M544.80 466.28 L548.30 466.28" stroke="#141414" stroke-width="0.9" fill="none"/><path d="M544.80 472.00 L548.30 472.00" stroke="#626262" stroke-width="0.9" fill="none"/><path d="M487.90 437.70 L491.40 437.70" stroke="#141414" stroke-width="0.9" fill="none"/><text x="493.50" y="439.70" transform="rotate(0.05 493.50 439.70)" text-anchor="start" fill="#d23cd2" stroke="#d23cd2" stroke-width="0.1" font-size="4.8">MAG CURRENT</text><text x="491.10" y="437.90" transform="rotate(0.05 491.10 437.90)" text-anchor="end" fill="#333" stroke="#333" stroke-width="0.1" font-size="4.8">1 A</text><path d="M487.90 443.42 L491.40 443.42" stroke="#141414" stroke-width="0.9" fill="none"/><text x="493.50" y="445.42" transform="rotate(0.05 493.50 445.42)" text-anchor="start" fill="#d23cd2" stroke="#d23cd2" stroke-width="0.1" font-size="4.8">ROTOR TIME CONST</text><text x="491.10" y="443.62" transform="rotate(0.05 491.10 443.62)" text-anchor="end" fill="#333" stroke="#333" stroke-width="0.1" font-size="4.8">0.1 s</text><path d="M487.90 449.13 L491.40 449.13" stroke="#141414" stroke-width="0.9" fill="none"/><text x="493.50" y="451.13" transform="rotate(0.05 493.50 451.13)" text-anchor="start" fill="#d23cd2" stroke="#d23cd2" stroke-width="0.1" font-size="4.8">LEAKAGE INDUCT</text><text x="491.10" y="449.33" transform="rotate(0.05 491.10 449.33)" text-anchor="end" fill="#333" stroke="#333" stroke-width="0.1" font-size="4.8">1 mH</text><path d="M487.90 454.85 L491.40 454.85" stroke="#141414" stroke-width="0.9" fill="none"/><text x="493.50" y="456.85" transform="rotate(0.05 493.50 456.85)" text-anchor="start" fill="#d23cd2" stroke="#d23cd2" stroke-width="0.1" font-size="4.8">STATOR RES</text><text x="491.10" y="455.05" transform="rotate(0.05 491.10 455.05)" text-anchor="end" fill="#333" stroke="#333" stroke-width="0.1" font-size="4.8">0.0001 Ohm</text><path d="M487.90 460.57 L491.40 460.57" stroke="#141414" stroke-width="0.9" fill="none"/><text x="493.50" y="462.57" transform="rotate(0.05 493.50 462.57)" text-anchor="start" fill="#d23cd2" stroke="#d23cd2" stroke-width="0.1" font-size="4.8">ROTOR RES</text><text x="491.10" y="460.77" transform="rotate(0.05 491.10 460.77)" text-anchor="end" fill="#141414" stroke="#141414" stroke-width="0.1" font-size="4.8">0.0001 Ohm</text><path d="M487.90 466.28 L491.40 466.28" stroke="#141414" stroke-width="0.9" fill="none"/><text x="493.50" y="468.28" transform="rotate(0.05 493.50 468.28)" text-anchor="start" fill="#d23cd2" stroke="#d23cd2" stroke-width="0.1" font-size="4.8">MUTUAL INDUCT</text><text x="491.10" y="466.48" transform="rotate(0.05 491.10 466.48)" text-anchor="end" fill="#333" stroke="#333" stroke-width="0.1" font-size="4.8">100 mH</text><path d="M487.90 472.00 L491.40 472.00" stroke="#141414" stroke-width="0.9" fill="none"/><text x="493.50" y="474.00" transform="rotate(0.05 493.50 474.00)" text-anchor="start" fill="#d23cd2" stroke="#d23cd2" stroke-width="0.1" font-size="4.8">IM WIRING</text><text x="491.10" y="472.20" transform="rotate(0.05 491.10 472.20)" text-anchor="end" fill="#141414" stroke="#141414" stroke-width="0.1" font-size="4.8">FALSE</text><path d="M241.80 98.50 L265.70 98.50" stroke="#141414" stroke-width="1.1" fill="none"/><path d="M265.70 98.50 L265.70 114.40 L291.00 114.40" stroke="#555" stroke-width="0.8" fill="none"/><path d="M241.80 147.30 L265.70 147.30" stroke="#141414" stroke-width="1.1" fill="none"/><path d="M265.70 147.30 L265.70 120.50 L291.00 120.50" stroke="#555" stroke-width="0.8" fill="none"/><path d="M334.80 109.20 L344.60 109.20 L344.60 114.20" stroke="#141414" stroke-width="1.1" fill="none"/><path d="M344.60 114.20 L376.10 114.20" stroke="#555" stroke-width="0.8" fill="none"/><path d="M422.20 109.20 L435.20 109.20 L435.20 114.40" stroke="#141414" stroke-width="1.1" fill="none"/><path d="M435.20 114.40 L462.10 114.40" stroke="#555" stroke-width="0.8" fill="none"/><path d="M508.70 109.20 L541.50 109.20 L541.50 139.30 L557.10 139.30" stroke="#141414" stroke-width="1.1" fill="none"/><path d="M623.50 116.60 L689.80 116.60" stroke="#222" stroke-width="0.8" fill="none"/><path d="M239.30 197.00 L300.30 197.00 L300.30 272.60 L323.10 272.60" stroke="#141414" stroke-width="1.1" fill="none"/><path d="M239.70 228.20 L289.80 228.20 L289.80 312.70 L323.10 312.70" stroke="#141414" stroke-width="1.1" fill="none"/><path d="M239.70 259.60 L276.70 259.60 L276.70 289.60 L323.10 289.60" stroke="#9a9a9a" stroke-width="0.8" fill="none"/><path d="M238.10 299.70 L249.50 299.70 L249.50 283.90 L323.10 283.90" stroke="#777" stroke-width="0.8" fill="none"/><path d="M238.10 333.80 L276.50 333.80 L276.50 307.20 L323.10 307.20" stroke="#333" stroke-width="0.8" fill="none"/><path d="M398.70 260.90 L418.60 260.90" stroke="#333" stroke-width="0.8" fill="none"/><path d="M418.60 260.90 L418.60 290.30" stroke="#555" stroke-width="0.8" fill="none"/><path d="M418.60 290.30 L687.20 290.30" stroke="#141414" stroke-width="1.1" fill="none"/></g></svg>
</body></html>
